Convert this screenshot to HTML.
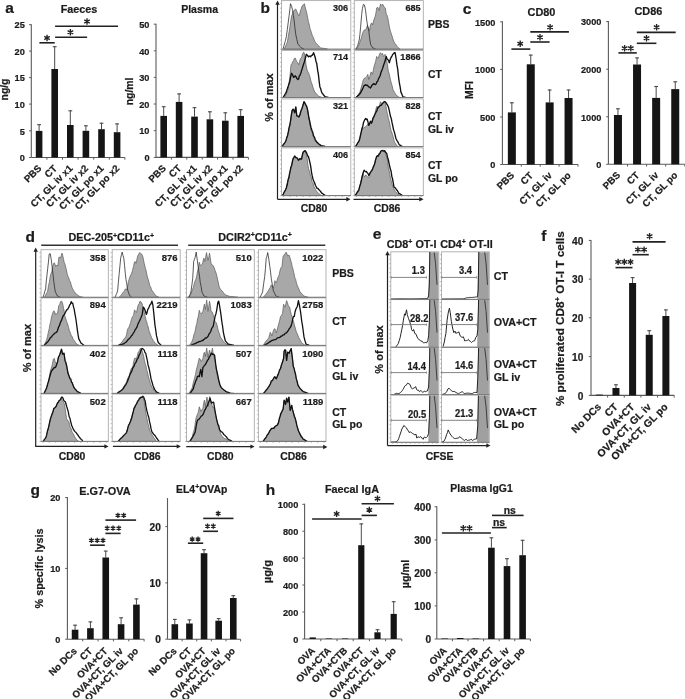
<!DOCTYPE html>
<html><head><meta charset="utf-8"><title>Figure</title>
<style>
html,body{margin:0;padding:0;background:#fff;}
body{width:685px;height:699px;overflow:hidden;}
svg{display:block;font-family:"Liberation Sans",sans-serif;filter:grayscale(1);}
</style></head><body>
<svg width="685" height="699" viewBox="0 0 685 699"><text x="5.2" y="13" font-size="15.5" text-anchor="start" font-weight="bold" fill="#1c1c1c" stroke="#1c1c1c" stroke-width="0.22">a</text>
<text x="79" y="12.9" font-size="10.8" text-anchor="middle" font-weight="bold" fill="#1c1c1c" stroke="#1c1c1c" stroke-width="0.22">Faeces</text>
<text x="199.6" y="13.1" font-size="10.5" text-anchor="middle" font-weight="bold" fill="#1c1c1c" stroke="#1c1c1c" stroke-width="0.22">Plasma</text>
<text x="0" y="0" transform="translate(8.3 89.5) rotate(-90)" font-size="10.4" text-anchor="middle" font-weight="bold" fill="#1c1c1c" stroke="#1c1c1c" stroke-width="0.22">ng/g</text>
<text x="0" y="0" transform="translate(133 91.4) rotate(-90)" font-size="10.4" text-anchor="middle" font-weight="bold" fill="#1c1c1c" stroke="#1c1c1c" stroke-width="0.22">ng/ml</text>
<line x1="31.3" y1="24.2" x2="31.3" y2="157.5" stroke="#5a5a5a" stroke-width="1.1"/>
<line x1="31.3" y1="157.5" x2="124.9" y2="157.5" stroke="#5a5a5a" stroke-width="1.1"/>
<line x1="29.1" y1="24.7" x2="31.3" y2="24.7" stroke="#5a5a5a" stroke-width="1"/>
<text x="0" y="0" transform="translate(24.8 28.48) scale(0.98 1.04)" font-size="9.4" text-anchor="end" font-weight="bold" fill="#1c1c1c" stroke="#1c1c1c" stroke-width="0.22">25</text>
<line x1="29.1" y1="51.1" x2="31.3" y2="51.1" stroke="#5a5a5a" stroke-width="1"/>
<text x="0" y="0" transform="translate(24.8 54.88) scale(0.98 1.04)" font-size="9.4" text-anchor="end" font-weight="bold" fill="#1c1c1c" stroke="#1c1c1c" stroke-width="0.22">20</text>
<line x1="29.1" y1="77.6" x2="31.3" y2="77.6" stroke="#5a5a5a" stroke-width="1"/>
<text x="0" y="0" transform="translate(24.8 81.38) scale(0.98 1.04)" font-size="9.4" text-anchor="end" font-weight="bold" fill="#1c1c1c" stroke="#1c1c1c" stroke-width="0.22">15</text>
<line x1="29.1" y1="104.1" x2="31.3" y2="104.1" stroke="#5a5a5a" stroke-width="1"/>
<text x="0" y="0" transform="translate(24.8 107.88) scale(0.98 1.04)" font-size="9.4" text-anchor="end" font-weight="bold" fill="#1c1c1c" stroke="#1c1c1c" stroke-width="0.22">10</text>
<line x1="29.1" y1="130.8" x2="31.3" y2="130.8" stroke="#5a5a5a" stroke-width="1"/>
<text x="0" y="0" transform="translate(24.8 134.58) scale(0.98 1.04)" font-size="9.4" text-anchor="end" font-weight="bold" fill="#1c1c1c" stroke="#1c1c1c" stroke-width="0.22">5</text>
<line x1="29.1" y1="157.5" x2="31.3" y2="157.5" stroke="#5a5a5a" stroke-width="1"/>
<text x="0" y="0" transform="translate(24.8 161.28) scale(0.98 1.04)" font-size="9.4" text-anchor="end" font-weight="bold" fill="#1c1c1c" stroke="#1c1c1c" stroke-width="0.22">0</text>
<line x1="46.9" y1="157.5" x2="46.9" y2="159.7" stroke="#5a5a5a" stroke-width="1"/>
<line x1="62.5" y1="157.5" x2="62.5" y2="159.7" stroke="#5a5a5a" stroke-width="1"/>
<line x1="78.1" y1="157.5" x2="78.1" y2="159.7" stroke="#5a5a5a" stroke-width="1"/>
<line x1="93.7" y1="157.5" x2="93.7" y2="159.7" stroke="#5a5a5a" stroke-width="1"/>
<line x1="109.3" y1="157.5" x2="109.3" y2="159.7" stroke="#5a5a5a" stroke-width="1"/>
<line x1="124.9" y1="157.5" x2="124.9" y2="159.7" stroke="#5a5a5a" stroke-width="1"/>
<text x="0" y="0" transform="translate(42 169) rotate(-45)" font-size="9.7" text-anchor="end" font-weight="bold" fill="#1c1c1c" stroke="#1c1c1c" stroke-width="0.22">PBS</text>
<text x="0" y="0" transform="translate(57.6 169) rotate(-45)" font-size="9.7" text-anchor="end" font-weight="bold" fill="#1c1c1c" stroke="#1c1c1c" stroke-width="0.22">CT</text>
<text x="0" y="0" transform="translate(73.2 169) rotate(-45)" font-size="9.7" text-anchor="end" font-weight="bold" fill="#1c1c1c" stroke="#1c1c1c" stroke-width="0.22">CT, GL iv x1</text>
<text x="0" y="0" transform="translate(88.8 169) rotate(-45)" font-size="9.7" text-anchor="end" font-weight="bold" fill="#1c1c1c" stroke="#1c1c1c" stroke-width="0.22">CT, GL iv x2</text>
<text x="0" y="0" transform="translate(104.4 169) rotate(-45)" font-size="9.7" text-anchor="end" font-weight="bold" fill="#1c1c1c" stroke="#1c1c1c" stroke-width="0.22">CT, GL po x1</text>
<text x="0" y="0" transform="translate(120 169) rotate(-45)" font-size="9.7" text-anchor="end" font-weight="bold" fill="#1c1c1c" stroke="#1c1c1c" stroke-width="0.22">CT, GL po x2</text>
<line x1="39.1" y1="124.3" x2="39.1" y2="130.9" stroke="#4a4a4a" stroke-width="1"/>
<line x1="37.2" y1="124.7" x2="41" y2="124.7" stroke="#4a4a4a" stroke-width="1.1"/>
<rect x="35.8" y="130.9" width="6.6" height="26.6" fill="#151515"/>
<line x1="54.7" y1="46.3" x2="54.7" y2="69" stroke="#4a4a4a" stroke-width="1"/>
<line x1="52.8" y1="46.7" x2="56.6" y2="46.7" stroke="#4a4a4a" stroke-width="1.1"/>
<rect x="51.4" y="69" width="6.6" height="88.5" fill="#151515"/>
<line x1="70.3" y1="110.4" x2="70.3" y2="125" stroke="#4a4a4a" stroke-width="1"/>
<line x1="68.4" y1="110.8" x2="72.2" y2="110.8" stroke="#4a4a4a" stroke-width="1.1"/>
<rect x="67" y="125" width="6.6" height="32.5" fill="#151515"/>
<line x1="85.9" y1="125.4" x2="85.9" y2="130.8" stroke="#4a4a4a" stroke-width="1"/>
<line x1="84" y1="125.8" x2="87.8" y2="125.8" stroke="#4a4a4a" stroke-width="1.1"/>
<rect x="82.6" y="130.8" width="6.6" height="26.7" fill="#151515"/>
<line x1="101.5" y1="122.8" x2="101.5" y2="129.2" stroke="#4a4a4a" stroke-width="1"/>
<line x1="99.6" y1="123.2" x2="103.4" y2="123.2" stroke="#4a4a4a" stroke-width="1.1"/>
<rect x="98.2" y="129.2" width="6.6" height="28.3" fill="#151515"/>
<line x1="117.1" y1="123.5" x2="117.1" y2="132.2" stroke="#4a4a4a" stroke-width="1"/>
<line x1="115.2" y1="123.9" x2="119" y2="123.9" stroke="#4a4a4a" stroke-width="1.1"/>
<rect x="113.8" y="132.2" width="6.6" height="25.3" fill="#151515"/>
<line x1="39.4" y1="42.8" x2="54.7" y2="42.8" stroke="#222" stroke-width="1.6"/>
<path d="M47.05 34.8L47.05 41.2M44.28 36.4L49.82 39.6M44.28 39.6L49.82 36.4" stroke="#222" stroke-width="1.35" fill="none"/>
<line x1="55.1" y1="37.2" x2="87.1" y2="37.2" stroke="#222" stroke-width="1.6"/>
<path d="M70.4 29.1L70.4 35.5M67.63 30.7L73.17 33.9M67.63 33.9L73.17 30.7" stroke="#222" stroke-width="1.35" fill="none"/>
<line x1="55.1" y1="26.2" x2="118" y2="26.2" stroke="#222" stroke-width="1.6"/>
<path d="M87 18.3L87 24.7M84.23 19.9L89.77 23.1M84.23 23.1L89.77 19.9" stroke="#222" stroke-width="1.35" fill="none"/>
<line x1="156" y1="23.7" x2="156" y2="157.4" stroke="#5a5a5a" stroke-width="1.1"/>
<line x1="156" y1="157.4" x2="248.4" y2="157.4" stroke="#5a5a5a" stroke-width="1.1"/>
<line x1="153.8" y1="24.2" x2="156" y2="24.2" stroke="#5a5a5a" stroke-width="1"/>
<text x="0" y="0" transform="translate(149.5 27.98) scale(0.98 1.04)" font-size="9.4" text-anchor="end" font-weight="bold" fill="#1c1c1c" stroke="#1c1c1c" stroke-width="0.22">50</text>
<line x1="153.8" y1="50.8" x2="156" y2="50.8" stroke="#5a5a5a" stroke-width="1"/>
<text x="0" y="0" transform="translate(149.5 54.58) scale(0.98 1.04)" font-size="9.4" text-anchor="end" font-weight="bold" fill="#1c1c1c" stroke="#1c1c1c" stroke-width="0.22">40</text>
<line x1="153.8" y1="77.4" x2="156" y2="77.4" stroke="#5a5a5a" stroke-width="1"/>
<text x="0" y="0" transform="translate(149.5 81.18) scale(0.98 1.04)" font-size="9.4" text-anchor="end" font-weight="bold" fill="#1c1c1c" stroke="#1c1c1c" stroke-width="0.22">30</text>
<line x1="153.8" y1="104" x2="156" y2="104" stroke="#5a5a5a" stroke-width="1"/>
<text x="0" y="0" transform="translate(149.5 107.78) scale(0.98 1.04)" font-size="9.4" text-anchor="end" font-weight="bold" fill="#1c1c1c" stroke="#1c1c1c" stroke-width="0.22">20</text>
<line x1="153.8" y1="130.7" x2="156" y2="130.7" stroke="#5a5a5a" stroke-width="1"/>
<text x="0" y="0" transform="translate(149.5 134.48) scale(0.98 1.04)" font-size="9.4" text-anchor="end" font-weight="bold" fill="#1c1c1c" stroke="#1c1c1c" stroke-width="0.22">10</text>
<line x1="153.8" y1="157.4" x2="156" y2="157.4" stroke="#5a5a5a" stroke-width="1"/>
<text x="0" y="0" transform="translate(149.5 161.18) scale(0.98 1.04)" font-size="9.4" text-anchor="end" font-weight="bold" fill="#1c1c1c" stroke="#1c1c1c" stroke-width="0.22">0</text>
<line x1="171.4" y1="157.4" x2="171.4" y2="159.6" stroke="#5a5a5a" stroke-width="1"/>
<line x1="186.8" y1="157.4" x2="186.8" y2="159.6" stroke="#5a5a5a" stroke-width="1"/>
<line x1="202.2" y1="157.4" x2="202.2" y2="159.6" stroke="#5a5a5a" stroke-width="1"/>
<line x1="217.6" y1="157.4" x2="217.6" y2="159.6" stroke="#5a5a5a" stroke-width="1"/>
<line x1="233" y1="157.4" x2="233" y2="159.6" stroke="#5a5a5a" stroke-width="1"/>
<line x1="248.4" y1="157.4" x2="248.4" y2="159.6" stroke="#5a5a5a" stroke-width="1"/>
<text x="0" y="0" transform="translate(166.6 168.9) rotate(-45)" font-size="9.7" text-anchor="end" font-weight="bold" fill="#1c1c1c" stroke="#1c1c1c" stroke-width="0.22">PBS</text>
<text x="0" y="0" transform="translate(182 168.9) rotate(-45)" font-size="9.7" text-anchor="end" font-weight="bold" fill="#1c1c1c" stroke="#1c1c1c" stroke-width="0.22">CT</text>
<text x="0" y="0" transform="translate(197.4 168.9) rotate(-45)" font-size="9.7" text-anchor="end" font-weight="bold" fill="#1c1c1c" stroke="#1c1c1c" stroke-width="0.22">CT, GL iv x1</text>
<text x="0" y="0" transform="translate(212.8 168.9) rotate(-45)" font-size="9.7" text-anchor="end" font-weight="bold" fill="#1c1c1c" stroke="#1c1c1c" stroke-width="0.22">CT, GL iv x2</text>
<text x="0" y="0" transform="translate(228.2 168.9) rotate(-45)" font-size="9.7" text-anchor="end" font-weight="bold" fill="#1c1c1c" stroke="#1c1c1c" stroke-width="0.22">CT, GL po x1</text>
<text x="0" y="0" transform="translate(243.6 168.9) rotate(-45)" font-size="9.7" text-anchor="end" font-weight="bold" fill="#1c1c1c" stroke="#1c1c1c" stroke-width="0.22">CT, GL po x2</text>
<line x1="163.7" y1="106.3" x2="163.7" y2="115.9" stroke="#4a4a4a" stroke-width="1"/>
<line x1="161.8" y1="106.7" x2="165.6" y2="106.7" stroke="#4a4a4a" stroke-width="1.1"/>
<rect x="160.4" y="115.9" width="6.6" height="41.5" fill="#151515"/>
<line x1="179.1" y1="93.5" x2="179.1" y2="101.9" stroke="#4a4a4a" stroke-width="1"/>
<line x1="177.2" y1="93.9" x2="181" y2="93.9" stroke="#4a4a4a" stroke-width="1.1"/>
<rect x="175.8" y="101.9" width="6.6" height="55.5" fill="#151515"/>
<line x1="194.5" y1="107.3" x2="194.5" y2="116.6" stroke="#4a4a4a" stroke-width="1"/>
<line x1="192.6" y1="107.7" x2="196.4" y2="107.7" stroke="#4a4a4a" stroke-width="1.1"/>
<rect x="191.2" y="116.6" width="6.6" height="40.8" fill="#151515"/>
<line x1="209.9" y1="111.4" x2="209.9" y2="119.3" stroke="#4a4a4a" stroke-width="1"/>
<line x1="208" y1="111.8" x2="211.8" y2="111.8" stroke="#4a4a4a" stroke-width="1.1"/>
<rect x="206.6" y="119.3" width="6.6" height="38.1" fill="#151515"/>
<line x1="225.3" y1="112.4" x2="225.3" y2="120.7" stroke="#4a4a4a" stroke-width="1"/>
<line x1="223.4" y1="112.8" x2="227.2" y2="112.8" stroke="#4a4a4a" stroke-width="1.1"/>
<rect x="222" y="120.7" width="6.6" height="36.7" fill="#151515"/>
<line x1="240.7" y1="109.3" x2="240.7" y2="115.9" stroke="#4a4a4a" stroke-width="1"/>
<line x1="238.8" y1="109.7" x2="242.6" y2="109.7" stroke="#4a4a4a" stroke-width="1.1"/>
<rect x="237.4" y="115.9" width="6.6" height="41.5" fill="#151515"/>
<text x="260.6" y="12.9" font-size="15.5" text-anchor="start" font-weight="bold" fill="#1c1c1c" stroke="#1c1c1c" stroke-width="0.22">b</text>
<rect x="281.5" y="0.6" width="69.3" height="48.6" fill="#fff" stroke="#ababab" stroke-width="0.9"/>
<rect x="281.5" y="50.4" width="69.3" height="47.1" fill="#fff" stroke="#ababab" stroke-width="0.9"/>
<rect x="281.5" y="98.9" width="69.3" height="47.7" fill="#fff" stroke="#ababab" stroke-width="0.9"/>
<rect x="281.5" y="147.9" width="69.3" height="47.7" fill="#fff" stroke="#ababab" stroke-width="0.9"/>
<rect x="354.3" y="0.6" width="69" height="48.6" fill="#fff" stroke="#ababab" stroke-width="0.9"/>
<rect x="354.3" y="50.4" width="69" height="47.1" fill="#fff" stroke="#ababab" stroke-width="0.9"/>
<rect x="354.3" y="98.9" width="69" height="47.7" fill="#fff" stroke="#ababab" stroke-width="0.9"/>
<rect x="354.3" y="147.9" width="69" height="47.7" fill="#fff" stroke="#ababab" stroke-width="0.9"/>
<path d="M284.2 49.2 L284.2 48.9 L285 47.3 L285.8 45.63 L286.6 43.65 L287.4 42 L288.27 36.24 L289.13 31.56 L290 26.3 L290.8 20.84 L291.6 15.8 L292.35 14.32 L293.1 11.6 L294 10.27 L294.9 9.75 L295.8 8.9 L296.8 11.6 L297.85 13.88 L298.9 15.8 L299.7 14.05 L300.5 10.5 L301.2 8.78 L301.9 6.55 L302.6 5.3 L303.5 5.06 L304.4 3.7 L305.1 6.86 L305.8 9.5 L306.55 12.1 L307.3 15.8 L308.35 21.4 L309.4 25.2 L310.1 28.73 L310.8 30.82 L311.5 32.6 L312.4 35.95 L313.3 37.13 L314.2 40 L314.92 41.38 L315.64 42.6 L316.36 43.33 L317.08 44.13 L317.8 45.2 L318.7 45.84 L319.6 46.91 L320.5 47.8 L321.26 47.95 L322.01 48.13 L322.77 48.26 L323.52 48.29 L324.28 48.46 L325.03 48.5 L325.79 48.69 L326.54 48.78 L327.3 48.9 L327.3 49.2Z" fill="#a8a8a8" stroke="#5a5a5a" stroke-width="0.7" stroke-linejoin="round"/>
<path d="M283.2 48.9 L283.98 45.68 L284.75 42.8 L285.52 40.25 L286.3 36.8 L287.35 29.31 L288.4 21 L289.2 15.16 L290 8.4 L290.5 3.7 L291.6 6.3 L292.6 10.5 L293.4 15.62 L294.2 21 L295 28.45 L295.8 34.7 L296.85 39.45 L297.9 44.1 L298.67 44.73 L299.45 45.93 L300.23 46.7 L301 47.8 L301.8 48.16 L302.6 48.41 L303.4 48.61 L304.2 48.9" fill="none" stroke="#222" stroke-width="0.75" stroke-linejoin="round"/>
<line x1="281.5" y1="49.2" x2="350.8" y2="49.2" stroke="#7a7a7a" stroke-width="1"/>
<path d="M279.9 3.6L281.5 3.6M279.9 8.16L281.5 8.16M279.9 12.72L281.5 12.72M279.9 17.28L281.5 17.28M279.9 21.84L281.5 21.84M279.9 26.4L281.5 26.4M279.9 30.96L281.5 30.96M279.9 35.52L281.5 35.52M279.9 40.08L281.5 40.08M279.9 44.64L281.5 44.64M279.9 49.2L281.5 49.2" stroke="#9a9a9a" stroke-width="0.6"/>
<path d="M284.7 97.5 L284.7 97.4 L285.5 95.58 L286.3 93.65 L287.1 91.93 L287.9 90 L288.6 84.45 L289.3 80.89 L290 75.3 L291 64.8 L291.8 63.96 L292.6 61.7 L293.47 60.8 L294.33 58.49 L295.2 58 L296 59.9 L296.8 61.7 L297.85 62.87 L298.9 64.8 L299.7 61.1 L300.5 58.5 L301.2 57.93 L301.9 56.46 L302.6 53.8 L303.4 52.25 L304.2 52.7 L305.2 58.5 L306 64.54 L306.8 69 L307.67 71.33 L308.53 72.94 L309.4 75.3 L310.1 77.29 L310.8 80.62 L311.5 82.7 L312.3 84.96 L313.1 87.74 L313.9 89.98 L314.7 92.1 L315.54 92.63 L316.38 93.96 L317.22 94.87 L318.06 95.64 L318.9 96.3 L319.67 96.59 L320.45 96.8 L321.23 97.09 L322 97.4 L322 97.5Z" fill="#a8a8a8" stroke="#5a5a5a" stroke-width="0.7" stroke-linejoin="round"/>
<path d="M283.2 97.4 L283.98 96.18 L284.75 94.7 L285.52 93.64 L286.3 92.1 L287.1 89.42 L287.9 87.37 L288.7 84.6 L289.5 82.7 L290.2 79.62 L290.9 75.52 L291.6 73.2 L292.65 75.13 L293.7 77.4 L294.4 76.7 L295.1 75.81 L295.8 76.4 L296.85 78.58 L297.9 79.5 L298.6 78.92 L299.3 76 L300 75.3 L300.7 73.46 L301.4 71.16 L302.1 69 L302.97 66.05 L303.83 63.58 L304.7 60.6 L305.5 57.77 L306.3 54.3 L307.35 55.16 L308.4 56.9 L309.17 56.25 L309.95 56.16 L310.73 56.76 L311.5 55.4 L312.2 55.36 L312.9 54.15 L313.6 52.7 L314.4 55.02 L315.2 57.5 L316 61.47 L316.8 63.8 L317.6 70.01 L318.4 74.3 L319.15 81.37 L319.9 86.9 L320.6 88.53 L321.3 90.94 L322 93.1 L322.8 93.89 L323.6 94.98 L324.4 96.04 L325.2 96.9 L326 97.02 L326.8 97.14 L327.6 97.26 L328.4 97.4" fill="none" stroke="#111" stroke-width="1.35" stroke-linejoin="round"/>
<line x1="281.5" y1="97.5" x2="350.8" y2="97.5" stroke="#7a7a7a" stroke-width="1"/>
<path d="M279.9 53.4L281.5 53.4M279.9 57.81L281.5 57.81M279.9 62.22L281.5 62.22M279.9 66.63L281.5 66.63M279.9 71.04L281.5 71.04M279.9 75.45L281.5 75.45M279.9 79.86L281.5 79.86M279.9 84.27L281.5 84.27M279.9 88.68L281.5 88.68M279.9 93.09L281.5 93.09M279.9 97.5L281.5 97.5" stroke="#9a9a9a" stroke-width="0.6"/>
<path d="M282.1 146.6 L282.1 146.4 L282.84 145.43 L283.58 144.36 L284.32 143.39 L285.06 142.49 L285.8 141.1 L286.67 137.59 L287.53 135.13 L288.4 131.7 L289.1 129.09 L289.8 125.52 L290.5 121.2 L291.3 116.11 L292.1 110.7 L293.1 109.1 L293.9 110.22 L294.7 112.8 L295.8 107 L296.8 115.9 L297.85 116.26 L298.9 117 L299.6 115.99 L300.3 111.93 L301 110.7 L301.8 108.2 L302.6 106.5 L304 101.7 L304.9 104.29 L305.8 104.9 L306.55 106.64 L307.3 108.6 L308.1 112.66 L308.9 118 L309.7 122.35 L310.5 127.5 L311.33 131.2 L312.17 132.74 L313 135.9 L313.75 137.35 L314.5 139.23 L315.25 140.96 L316 142.2 L316.8 142.87 L317.6 143.33 L318.4 144.27 L319.2 144.78 L320 145.6 L320.8 145.7 L321.6 145.88 L322.4 146.1 L323.2 146.23 L324 146.4 L324 146.6Z" fill="#a8a8a8" stroke="#5a5a5a" stroke-width="0.7" stroke-linejoin="round"/>
<path d="M282.1 146.4 L282.84 145.34 L283.58 144.16 L284.32 143.48 L285.06 142.26 L285.8 141.1 L286.67 138.1 L287.53 135.7 L288.4 131.7 L289.1 127.38 L289.8 125.29 L290.5 121.2 L291.3 115.4 L292.1 110.7 L293.1 109.1 L293.9 110.45 L294.7 112.8 L295.8 107 L296.8 115.9 L297.85 116.09 L298.9 117 L299.6 115.38 L300.3 113.68 L301 110.7 L301.8 109.01 L302.6 106.5 L304 101.7 L304.9 102.93 L305.8 104.9 L306.55 106.01 L307.3 108.6 L308.1 112.87 L308.9 118 L309.6 120.6 L310.3 124.34 L311 127.5 L311.87 130.32 L312.73 132.33 L313.6 135.9 L314.4 137.03 L315.2 139.53 L316 140.83 L316.8 142.2 L317.64 142.63 L318.48 143.75 L319.32 144.22 L320.16 144.89 L321 145.6 L321.84 145.8 L322.68 145.94 L323.52 146.07 L324.36 146.23 L325.2 146.4" fill="none" stroke="#111" stroke-width="1.35" stroke-linejoin="round"/>
<line x1="281.5" y1="146.6" x2="350.8" y2="146.6" stroke="#7a7a7a" stroke-width="1"/>
<path d="M279.9 101.9L281.5 101.9M279.9 106.37L281.5 106.37M279.9 110.84L281.5 110.84M279.9 115.31L281.5 115.31M279.9 119.78L281.5 119.78M279.9 124.25L281.5 124.25M279.9 128.72L281.5 128.72M279.9 133.19L281.5 133.19M279.9 137.66L281.5 137.66M279.9 142.13L281.5 142.13M279.9 146.6L281.5 146.6" stroke="#9a9a9a" stroke-width="0.6"/>
<path d="M282.6 195.6 L282.6 195.4 L283.34 193.93 L284.08 192.32 L284.82 190.56 L285.56 189.65 L286.3 188 L287.17 183.91 L288.03 180.47 L288.9 177.5 L289.6 173.77 L290.3 170.81 L291 167 L291.7 165.28 L292.4 161.32 L293.1 158.6 L293.9 158.39 L294.7 156 L295.5 157.88 L296.3 157.6 L297.35 158.33 L298.4 160.2 L299.2 158.46 L300 158.6 L300.75 158.1 L301.5 159.1 L302.3 156.45 L303.1 152.3 L304.15 151.72 L305.2 150.7 L306 154.02 L306.8 155.5 L307.9 164.9 L308.6 168.74 L309.3 170.84 L310 173.3 L310.7 176.18 L311.4 177.95 L312.1 181.7 L312.97 182.77 L313.83 186.44 L314.7 188 L315.48 189.4 L316.25 190.65 L317.02 191.65 L317.8 192.8 L318.6 193.47 L319.4 194.04 L320.2 194.67 L321 195.2 L321 195.6Z" fill="#a8a8a8" stroke="#5a5a5a" stroke-width="0.7" stroke-linejoin="round"/>
<path d="M282.6 195.4 L283.34 193.93 L284.08 192.32 L284.82 191.15 L285.56 189.78 L286.3 188 L287.17 184.77 L288.03 180.04 L288.9 177.5 L289.6 173.48 L290.3 170.18 L291 167 L291.7 165.15 L292.4 161.72 L293.1 158.6 L293.9 157.36 L294.7 156 L295.5 157.14 L296.3 157.6 L297.35 158.11 L298.4 160.2 L299.2 159.77 L300 158.6 L300.75 159.16 L301.5 159.1 L302.3 155.12 L303.1 152.3 L304.15 151.22 L305.2 150.7 L306 151.88 L306.8 153.4 L307.6 155.86 L308.4 156.5 L309.2 159.39 L310 162.8 L310.75 166.61 L311.5 172.3 L312.2 175.73 L312.9 178.63 L313.6 180.7 L314.5 182.48 L315.4 185.3 L316.3 187 L317.07 188.4 L317.85 188.42 L318.62 189.5 L319.4 190.1 L320.27 191.2 L321.13 192.26 L322 193.3 L322.8 193.79 L323.6 194.33 L324.4 194.79 L325.2 195.2" fill="none" stroke="#111" stroke-width="1.35" stroke-linejoin="round"/>
<line x1="281.5" y1="195.6" x2="350.8" y2="195.6" stroke="#7a7a7a" stroke-width="1"/>
<path d="M283.5 195.6L283.5 197M290.03 195.6L290.03 197M296.56 195.6L296.56 197M303.09 195.6L303.09 197M309.62 195.6L309.62 197M316.15 195.6L316.15 197M322.68 195.6L322.68 197M329.21 195.6L329.21 197M335.74 195.6L335.74 197M342.27 195.6L342.27 197M348.8 195.6L348.8 197" stroke="#8a8a8a" stroke-width="0.7"/>
<path d="M279.9 150.9L281.5 150.9M279.9 155.37L281.5 155.37M279.9 159.84L281.5 159.84M279.9 164.31L281.5 164.31M279.9 168.78L281.5 168.78M279.9 173.25L281.5 173.25M279.9 177.72L281.5 177.72M279.9 182.19L281.5 182.19M279.9 186.66L281.5 186.66M279.9 191.13L281.5 191.13M279.9 195.6L281.5 195.6" stroke="#9a9a9a" stroke-width="0.6"/>
<path d="M356.3 49.2 L356.3 49 L357.02 47.73 L357.75 46.81 L358.48 45.66 L359.2 44.3 L359.9 41.85 L360.6 40.03 L361.3 37.9 L362.7 32.9 L363.45 31.34 L364.2 30 L365.1 29.98 L366 29.3 L367.4 25.4 L368.5 27.9 L369.5 30.8 L370.6 24.3 L371.7 22.9 L372.7 25 L373.8 20 L375.2 16.5 L375.95 12.84 L376.7 7.9 L377.8 7.2 L379.2 10.7 L379.9 6.41 L380.6 3.9 L381.7 5.4 L382.8 4.3 L384.2 7.2 L385.3 7.9 L386.3 14.3 L387.05 15.06 L387.8 17.9 L389.2 25.8 L390.1 30.09 L391 32.9 L391.9 35.6 L392.8 38.6 L393.85 41.49 L394.9 43.6 L395.62 44.07 L396.35 45.36 L397.07 46.42 L397.8 47.2 L398.53 47.73 L399.27 48.47 L400 49 L400 49.2Z" fill="#a8a8a8" stroke="#5a5a5a" stroke-width="0.7" stroke-linejoin="round"/>
<path d="M355.9 49 L356.8 47.42 L357.7 45.8 L358.45 42.63 L359.2 40.1 L359.9 34.58 L360.6 27.2 L361.7 14.3 L362.4 8.6 L363.4 4.3 L364.5 5 L365.6 10.7 L366.7 20 L367.7 26.5 L368.8 30.8 L369.5 37.2 L370.6 44.3 L371.65 46.32 L372.7 47.9 L373.43 48.17 L374.15 48.47 L374.88 48.7 L375.6 49" fill="none" stroke="#222" stroke-width="0.75" stroke-linejoin="round"/>
<line x1="354.3" y1="49.2" x2="423.3" y2="49.2" stroke="#7a7a7a" stroke-width="1"/>
<path d="M352.7 3.6L354.3 3.6M352.7 8.16L354.3 8.16M352.7 12.72L354.3 12.72M352.7 17.28L354.3 17.28M352.7 21.84L354.3 21.84M352.7 26.4L354.3 26.4M352.7 30.96L354.3 30.96M352.7 35.52L354.3 35.52M352.7 40.08L354.3 40.08M352.7 44.64L354.3 44.64M352.7 49.2L354.3 49.2" stroke="#9a9a9a" stroke-width="0.6"/>
<path d="M356.2 97.5 L356.2 97.4 L356.94 96.33 L357.68 95.3 L358.42 94.48 L359.16 93.13 L359.9 92.1 L360.77 88.98 L361.63 86.02 L362.5 82.7 L363.3 79.91 L364.1 78.5 L365.15 77.98 L366.2 77.4 L367 76.14 L367.8 74.3 L368.8 79.5 L369.85 76.49 L370.9 72.2 L371.7 72.36 L372.5 74.3 L373.2 70.7 L373.9 67.07 L374.6 64.8 L375.65 61.28 L376.7 56.4 L377.5 57.88 L378.3 58.5 L379.35 54.59 L380.4 52.7 L381.1 53.96 L381.8 54.12 L382.5 53.3 L383.5 56.4 L384.3 55.69 L385.1 54.3 L385.9 57.7 L386.7 60.6 L387.5 65.1 L388.3 71.1 L389.35 74.23 L390.4 79.5 L391.27 83.06 L392.13 85.61 L393 90 L393.77 90.97 L394.55 92.42 L395.33 93.67 L396.1 95.3 L396.9 95.76 L397.7 96.24 L398.5 96.77 L399.3 97.2 L399.3 97.5Z" fill="#a8a8a8" stroke="#5a5a5a" stroke-width="0.7" stroke-linejoin="round"/>
<path d="M356.2 97.4 L357.04 96.61 L357.88 95.63 L358.72 95.07 L359.56 94.04 L360.4 93.2 L361.27 91.36 L362.13 89.88 L363 88 L363.8 86.05 L364.6 85.3 L365.4 84.81 L366.2 85.39 L367 85.14 L367.8 85.8 L368.67 86.84 L369.53 87.12 L370.4 88 L371.27 86.56 L372.13 85.09 L373 84.3 L373.8 83.59 L374.6 84.43 L375.4 84.66 L376.2 83.7 L376.98 81.83 L377.75 81.16 L378.52 78.6 L379.3 77.4 L380.2 75.49 L381.1 72.01 L382 70.1 L382.7 68.14 L383.4 65.71 L384.1 63.8 L385.15 60.84 L386.2 56.4 L386.95 58.52 L387.7 59.6 L388.5 60.37 L389.3 62.7 L390.35 59 L391.4 56.9 L392.1 55.79 L392.8 54.26 L393.5 53.8 L394.3 52.73 L395.1 52.7 L396.1 58.5 L396.9 64.65 L397.7 69 L398.5 76.73 L399.3 82.7 L400.1 86.59 L400.9 92.1 L401.6 93.4 L402.3 95.35 L403 96.9 L403.87 97.1 L404.73 97.25 L405.6 97.4" fill="none" stroke="#111" stroke-width="1.35" stroke-linejoin="round"/>
<line x1="354.3" y1="97.5" x2="423.3" y2="97.5" stroke="#7a7a7a" stroke-width="1"/>
<path d="M352.7 53.4L354.3 53.4M352.7 57.81L354.3 57.81M352.7 62.22L354.3 62.22M352.7 66.63L354.3 66.63M352.7 71.04L354.3 71.04M352.7 75.45L354.3 75.45M352.7 79.86L354.3 79.86M352.7 84.27L354.3 84.27M352.7 88.68L354.3 88.68M352.7 93.09L354.3 93.09M352.7 97.5L354.3 97.5" stroke="#9a9a9a" stroke-width="0.6"/>
<path d="M355.7 146.6 L355.7 146.4 L356.44 145.05 L357.18 143.97 L357.92 142.72 L358.66 141.34 L359.4 140.1 L360.27 135.69 L361.13 133.01 L362 128.5 L362.7 128.84 L363.4 127.86 L364.1 127.5 L365.15 126.96 L366.2 126.4 L367.07 125.12 L367.93 123.91 L368.8 124.3 L369.6 123.24 L370.4 122.94 L371.2 121.03 L372 121.2 L372.87 119.75 L373.73 116.41 L374.6 114.9 L375.65 110.11 L376.7 106.5 L377.5 106.54 L378.3 108.6 L379.35 106.24 L380.4 101.7 L381.1 102.76 L381.8 103.59 L382.5 103.3 L383.37 103.02 L384.23 101.21 L385.1 101.7 L385.9 105.82 L386.7 110.7 L387.5 114.34 L388.3 118 L389.35 121.9 L390.4 127.5 L391.1 130.93 L391.8 132.08 L392.5 134.8 L393.2 136.68 L393.9 140.13 L394.6 142.2 L395.47 143.22 L396.33 144.82 L397.2 145.9 L397.2 146.6Z" fill="#a8a8a8" stroke="#5a5a5a" stroke-width="0.7" stroke-linejoin="round"/>
<path d="M355.7 146.4 L356.44 145.04 L357.18 143.92 L357.92 142.55 L358.66 141.72 L359.4 140.1 L360.27 136.43 L361.13 132.41 L362 128.5 L362.8 126.23 L363.6 122.2 L364.65 119.92 L365.7 118.5 L366.45 119.5 L367.2 119.1 L368 122.09 L368.8 125.4 L369.6 123.65 L370.4 121.2 L371.4 123.3 L372.2 121.59 L373 118 L373.8 117.06 L374.6 114.9 L375.4 113.51 L376.2 111.7 L376.9 110.91 L377.6 107.95 L378.3 107.5 L379.35 106.31 L380.4 105.4 L381.1 105.42 L381.8 104.51 L382.5 103.3 L383.37 102.67 L384.23 101.69 L385.1 101.7 L385.97 102.63 L386.83 104.03 L387.7 105.4 L388.5 107.28 L389.3 110.7 L390.35 115.77 L391.4 119.1 L392.1 122.9 L392.8 126.16 L393.5 129.6 L394.37 132.1 L395.23 135.55 L396.1 139 L396.9 140.36 L397.7 141.62 L398.5 143.26 L399.3 144.8 L400.1 145.17 L400.9 145.64 L401.7 146.04 L402.5 146.4" fill="none" stroke="#111" stroke-width="1.35" stroke-linejoin="round"/>
<line x1="354.3" y1="146.6" x2="423.3" y2="146.6" stroke="#7a7a7a" stroke-width="1"/>
<path d="M352.7 101.9L354.3 101.9M352.7 106.37L354.3 106.37M352.7 110.84L354.3 110.84M352.7 115.31L354.3 115.31M352.7 119.78L354.3 119.78M352.7 124.25L354.3 124.25M352.7 128.72L354.3 128.72M352.7 133.19L354.3 133.19M352.7 137.66L354.3 137.66M352.7 142.13L354.3 142.13M352.7 146.6L354.3 146.6" stroke="#9a9a9a" stroke-width="0.6"/>
<path d="M355.2 195.6 L355.2 195.4 L355.92 194.23 L356.64 193.12 L357.36 192.15 L358.08 191.31 L358.8 190.1 L359.7 186 L360.6 182.25 L361.5 179.6 L362.25 175.86 L363 173.3 L364.1 176.5 L364.9 176.7 L365.7 174.99 L366.5 175.4 L367.27 176.63 L368.03 177.16 L368.8 177.5 L369.6 174.1 L370.4 172.3 L371.1 171.31 L371.8 170.05 L372.5 169.1 L373.2 167.17 L373.9 166.73 L374.6 163.9 L375.65 159.3 L376.7 156.5 L377.5 155.19 L378.3 156 L379.1 155.67 L379.9 153.4 L380.65 151.84 L381.4 150.7 L382.2 150.04 L383 150.33 L383.8 150.4 L384.6 150.7 L385.65 154.6 L386.7 156.5 L387.5 161.11 L388.3 167 L389.05 170.08 L389.8 174.4 L390.85 179.29 L391.9 183.8 L392.8 185.98 L393.7 188.63 L394.6 190.1 L395.47 191.6 L396.33 192.49 L397.2 193.8 L397.98 194.12 L398.75 194.66 L399.52 195.05 L400.3 195.4 L400.3 195.6Z" fill="#a8a8a8" stroke="#5a5a5a" stroke-width="0.7" stroke-linejoin="round"/>
<path d="M355.2 195.4 L355.92 194.3 L356.64 193.38 L357.36 191.99 L358.08 191 L358.8 190.1 L359.7 186.44 L360.6 183.89 L361.5 179.6 L362.25 176.15 L363 173.3 L364.1 170.2 L364.9 171.19 L365.7 171.8 L366.45 171.5 L367.2 172.8 L368 173.44 L368.8 175.4 L369.6 174.25 L370.4 172.3 L371.1 171.34 L371.8 170.61 L372.5 169.1 L373.2 167.25 L373.9 165.61 L374.6 163.9 L375.65 159.6 L376.7 156.5 L377.5 155.7 L378.3 156 L379.1 153.8 L379.9 153.4 L380.65 151.39 L381.4 150.7 L382.2 150.6 L383 150.88 L383.8 151.18 L384.6 150.7 L385.65 152.34 L386.7 153.4 L387.5 157.18 L388.3 159.7 L389.35 164.87 L390.4 169.1 L391.1 171.28 L391.8 176.21 L392.5 178.6 L393.25 182.79 L394 187 L394.7 187.62 L395.4 187.91 L396.1 189.1 L397 190.21 L397.9 191.63 L398.8 193.3 L399.54 193.59 L400.28 194.21 L401.02 194.54 L401.76 195.01 L402.5 195.4" fill="none" stroke="#111" stroke-width="1.35" stroke-linejoin="round"/>
<line x1="354.3" y1="195.6" x2="423.3" y2="195.6" stroke="#7a7a7a" stroke-width="1"/>
<path d="M356.3 195.6L356.3 197M362.8 195.6L362.8 197M369.3 195.6L369.3 197M375.8 195.6L375.8 197M382.3 195.6L382.3 197M388.8 195.6L388.8 197M395.3 195.6L395.3 197M401.8 195.6L401.8 197M408.3 195.6L408.3 197M414.8 195.6L414.8 197M421.3 195.6L421.3 197" stroke="#8a8a8a" stroke-width="0.7"/>
<path d="M352.7 150.9L354.3 150.9M352.7 155.37L354.3 155.37M352.7 159.84L354.3 159.84M352.7 164.31L354.3 164.31M352.7 168.78L354.3 168.78M352.7 173.25L354.3 173.25M352.7 177.72L354.3 177.72M352.7 182.19L354.3 182.19M352.7 186.66L354.3 186.66M352.7 191.13L354.3 191.13M352.7 195.6L354.3 195.6" stroke="#9a9a9a" stroke-width="0.6"/>
<text x="0" y="0" transform="translate(348.1 11.3) scale(0.98 1.07)" font-size="9.3" text-anchor="end" font-weight="bold" fill="#1c1c1c" stroke="#1c1c1c" stroke-width="0.22">306</text>
<text x="0" y="0" transform="translate(420.6 11.3) scale(0.98 1.07)" font-size="9.3" text-anchor="end" font-weight="bold" fill="#1c1c1c" stroke="#1c1c1c" stroke-width="0.22">685</text>
<text x="0" y="0" transform="translate(348.1 59.8) scale(0.98 1.07)" font-size="9.3" text-anchor="end" font-weight="bold" fill="#1c1c1c" stroke="#1c1c1c" stroke-width="0.22">714</text>
<text x="0" y="0" transform="translate(420.6 59.8) scale(0.98 1.07)" font-size="9.3" text-anchor="end" font-weight="bold" fill="#1c1c1c" stroke="#1c1c1c" stroke-width="0.22">1866</text>
<text x="0" y="0" transform="translate(348.1 108.5) scale(0.98 1.07)" font-size="9.3" text-anchor="end" font-weight="bold" fill="#1c1c1c" stroke="#1c1c1c" stroke-width="0.22">321</text>
<text x="0" y="0" transform="translate(420.6 108.5) scale(0.98 1.07)" font-size="9.3" text-anchor="end" font-weight="bold" fill="#1c1c1c" stroke="#1c1c1c" stroke-width="0.22">828</text>
<text x="0" y="0" transform="translate(348.1 157.7) scale(0.98 1.07)" font-size="9.3" text-anchor="end" font-weight="bold" fill="#1c1c1c" stroke="#1c1c1c" stroke-width="0.22">406</text>
<text x="0" y="0" transform="translate(420.6 157.7) scale(0.98 1.07)" font-size="9.3" text-anchor="end" font-weight="bold" fill="#1c1c1c" stroke="#1c1c1c" stroke-width="0.22">854</text>
<text x="428" y="27.9" font-size="10.4" text-anchor="start" font-weight="bold" fill="#1c1c1c" stroke="#1c1c1c" stroke-width="0.22">PBS</text>
<text x="428" y="77.8" font-size="10.4" text-anchor="start" font-weight="bold" fill="#1c1c1c" stroke="#1c1c1c" stroke-width="0.22">CT</text>
<text x="428" y="119.8" font-size="10.4" text-anchor="start" font-weight="bold" fill="#1c1c1c" stroke="#1c1c1c" stroke-width="0.22">CT</text>
<text x="428" y="132.9" font-size="10.4" text-anchor="start" font-weight="bold" fill="#1c1c1c" stroke="#1c1c1c" stroke-width="0.22">GL iv</text>
<text x="428" y="169" font-size="10.4" text-anchor="start" font-weight="bold" fill="#1c1c1c" stroke="#1c1c1c" stroke-width="0.22">CT</text>
<text x="428" y="182.2" font-size="10.4" text-anchor="start" font-weight="bold" fill="#1c1c1c" stroke="#1c1c1c" stroke-width="0.22">GL po</text>
<line x1="277.5" y1="199.3" x2="277.5" y2="3.5" stroke="#222" stroke-width="1.2"/>
<path d="M275.3 4.7 L277.5 0.5 L279.7 4.7 Z" fill="#222"/>
<line x1="277.5" y1="199.3" x2="347.5" y2="199.3" stroke="#222" stroke-width="1.2"/>
<path d="M346.3 197.1 L350.5 199.3 L346.3 201.5 Z" fill="#222"/>
<line x1="353.5" y1="199.3" x2="420.5" y2="199.3" stroke="#222" stroke-width="1.2"/>
<path d="M419.3 197.1 L423.5 199.3 L419.3 201.5 Z" fill="#222"/>
<text x="314" y="211.6" font-size="10.4" text-anchor="middle" font-weight="bold" fill="#1c1c1c" stroke="#1c1c1c" stroke-width="0.22">CD80</text>
<text x="387" y="211.6" font-size="10.4" text-anchor="middle" font-weight="bold" fill="#1c1c1c" stroke="#1c1c1c" stroke-width="0.22">CD86</text>
<text x="0" y="0" transform="translate(273.4 97.5) rotate(-90)" font-size="11" text-anchor="middle" font-weight="bold" fill="#1c1c1c" stroke="#1c1c1c" stroke-width="0.22">% of max</text>
<text x="462.8" y="14.3" font-size="15.5" text-anchor="start" font-weight="bold" fill="#1c1c1c" stroke="#1c1c1c" stroke-width="0.22">c</text>
<text x="541.5" y="15.5" font-size="10.9" text-anchor="middle" font-weight="bold" fill="#1c1c1c" stroke="#1c1c1c" stroke-width="0.22">CD80</text>
<text x="648.4" y="15.4" font-size="10.9" text-anchor="middle" font-weight="bold" fill="#1c1c1c" stroke="#1c1c1c" stroke-width="0.22">CD86</text>
<text x="0" y="0" transform="translate(472.6 90) rotate(-90)" font-size="10.4" text-anchor="middle" font-weight="bold" fill="#1c1c1c" stroke="#1c1c1c" stroke-width="0.22">MFI</text>
<line x1="502.4" y1="21.3" x2="502.4" y2="164.5" stroke="#5a5a5a" stroke-width="1.1"/>
<line x1="502.4" y1="164.5" x2="578" y2="164.5" stroke="#5a5a5a" stroke-width="1.1"/>
<line x1="500.2" y1="21.8" x2="502.4" y2="21.8" stroke="#5a5a5a" stroke-width="1"/>
<text x="0" y="0" transform="translate(495.4 25.58) scale(0.98 1.04)" font-size="9.4" text-anchor="end" font-weight="bold" fill="#1c1c1c" stroke="#1c1c1c" stroke-width="0.22">1500</text>
<line x1="500.2" y1="69.4" x2="502.4" y2="69.4" stroke="#5a5a5a" stroke-width="1"/>
<text x="0" y="0" transform="translate(495.4 73.18) scale(0.98 1.04)" font-size="9.4" text-anchor="end" font-weight="bold" fill="#1c1c1c" stroke="#1c1c1c" stroke-width="0.22">1000</text>
<line x1="500.2" y1="117" x2="502.4" y2="117" stroke="#5a5a5a" stroke-width="1"/>
<text x="0" y="0" transform="translate(495.4 120.78) scale(0.98 1.04)" font-size="9.4" text-anchor="end" font-weight="bold" fill="#1c1c1c" stroke="#1c1c1c" stroke-width="0.22">500</text>
<line x1="500.2" y1="164.5" x2="502.4" y2="164.5" stroke="#5a5a5a" stroke-width="1"/>
<text x="0" y="0" transform="translate(495.4 168.28) scale(0.98 1.04)" font-size="9.4" text-anchor="end" font-weight="bold" fill="#1c1c1c" stroke="#1c1c1c" stroke-width="0.22">0</text>
<line x1="521.3" y1="164.5" x2="521.3" y2="166.7" stroke="#5a5a5a" stroke-width="1"/>
<line x1="540.2" y1="164.5" x2="540.2" y2="166.7" stroke="#5a5a5a" stroke-width="1"/>
<line x1="559.1" y1="164.5" x2="559.1" y2="166.7" stroke="#5a5a5a" stroke-width="1"/>
<line x1="578" y1="164.5" x2="578" y2="166.7" stroke="#5a5a5a" stroke-width="1"/>
<text x="0" y="0" transform="translate(514.75 176) rotate(-45)" font-size="9.7" text-anchor="end" font-weight="bold" fill="#1c1c1c" stroke="#1c1c1c" stroke-width="0.22">PBS</text>
<text x="0" y="0" transform="translate(533.65 176) rotate(-45)" font-size="9.7" text-anchor="end" font-weight="bold" fill="#1c1c1c" stroke="#1c1c1c" stroke-width="0.22">CT</text>
<text x="0" y="0" transform="translate(552.55 176) rotate(-45)" font-size="9.7" text-anchor="end" font-weight="bold" fill="#1c1c1c" stroke="#1c1c1c" stroke-width="0.22">CT, GL iv</text>
<text x="0" y="0" transform="translate(571.45 176) rotate(-45)" font-size="9.7" text-anchor="end" font-weight="bold" fill="#1c1c1c" stroke="#1c1c1c" stroke-width="0.22">CT, GL po</text>
<line x1="511.85" y1="102.4" x2="511.85" y2="112.4" stroke="#4a4a4a" stroke-width="1"/>
<line x1="509.95" y1="102.8" x2="513.75" y2="102.8" stroke="#4a4a4a" stroke-width="1.1"/>
<rect x="507.85" y="112.4" width="8" height="52.1" fill="#151515"/>
<line x1="530.75" y1="54.7" x2="530.75" y2="64.3" stroke="#4a4a4a" stroke-width="1"/>
<line x1="528.85" y1="55.1" x2="532.65" y2="55.1" stroke="#4a4a4a" stroke-width="1.1"/>
<rect x="526.75" y="64.3" width="8" height="100.2" fill="#151515"/>
<line x1="549.65" y1="89.6" x2="549.65" y2="102.4" stroke="#4a4a4a" stroke-width="1"/>
<line x1="547.75" y1="90" x2="551.55" y2="90" stroke="#4a4a4a" stroke-width="1.1"/>
<rect x="545.65" y="102.4" width="8" height="62.1" fill="#151515"/>
<line x1="568.55" y1="89.6" x2="568.55" y2="98" stroke="#4a4a4a" stroke-width="1"/>
<line x1="566.65" y1="90" x2="570.45" y2="90" stroke="#4a4a4a" stroke-width="1.1"/>
<rect x="564.55" y="98" width="8" height="66.5" fill="#151515"/>
<line x1="511.4" y1="49.1" x2="530.3" y2="49.1" stroke="#222" stroke-width="1.6"/>
<path d="M520.2 40.6L520.2 47M517.43 42.2L522.97 45.4M517.43 45.4L522.97 42.2" stroke="#222" stroke-width="1.35" fill="none"/>
<line x1="530.3" y1="42" x2="549.6" y2="42" stroke="#222" stroke-width="1.6"/>
<path d="M540 34.1L540 40.5M537.23 35.7L542.77 38.9M537.23 38.9L542.77 35.7" stroke="#222" stroke-width="1.35" fill="none"/>
<line x1="530.3" y1="31.9" x2="568.9" y2="31.9" stroke="#222" stroke-width="1.6"/>
<path d="M550.1 24L550.1 30.4M547.33 25.6L552.87 28.8M547.33 28.8L552.87 25.6" stroke="#222" stroke-width="1.35" fill="none"/>
<line x1="608.4" y1="21.1" x2="608.4" y2="164.3" stroke="#5a5a5a" stroke-width="1.1"/>
<line x1="608.4" y1="164.3" x2="684.8" y2="164.3" stroke="#5a5a5a" stroke-width="1.1"/>
<line x1="606.2" y1="21.6" x2="608.4" y2="21.6" stroke="#5a5a5a" stroke-width="1"/>
<text x="0" y="0" transform="translate(601.4 25.38) scale(0.98 1.04)" font-size="9.4" text-anchor="end" font-weight="bold" fill="#1c1c1c" stroke="#1c1c1c" stroke-width="0.22">3000</text>
<line x1="606.2" y1="69.2" x2="608.4" y2="69.2" stroke="#5a5a5a" stroke-width="1"/>
<text x="0" y="0" transform="translate(601.4 72.98) scale(0.98 1.04)" font-size="9.4" text-anchor="end" font-weight="bold" fill="#1c1c1c" stroke="#1c1c1c" stroke-width="0.22">2000</text>
<line x1="606.2" y1="116.8" x2="608.4" y2="116.8" stroke="#5a5a5a" stroke-width="1"/>
<text x="0" y="0" transform="translate(601.4 120.58) scale(0.98 1.04)" font-size="9.4" text-anchor="end" font-weight="bold" fill="#1c1c1c" stroke="#1c1c1c" stroke-width="0.22">1000</text>
<line x1="606.2" y1="164.3" x2="608.4" y2="164.3" stroke="#5a5a5a" stroke-width="1"/>
<text x="0" y="0" transform="translate(601.4 168.08) scale(0.98 1.04)" font-size="9.4" text-anchor="end" font-weight="bold" fill="#1c1c1c" stroke="#1c1c1c" stroke-width="0.22">0</text>
<line x1="627.5" y1="164.3" x2="627.5" y2="166.5" stroke="#5a5a5a" stroke-width="1"/>
<line x1="646.6" y1="164.3" x2="646.6" y2="166.5" stroke="#5a5a5a" stroke-width="1"/>
<line x1="665.7" y1="164.3" x2="665.7" y2="166.5" stroke="#5a5a5a" stroke-width="1"/>
<line x1="684.8" y1="164.3" x2="684.8" y2="166.5" stroke="#5a5a5a" stroke-width="1"/>
<text x="0" y="0" transform="translate(620.85 175.8) rotate(-45)" font-size="9.7" text-anchor="end" font-weight="bold" fill="#1c1c1c" stroke="#1c1c1c" stroke-width="0.22">PBS</text>
<text x="0" y="0" transform="translate(639.95 175.8) rotate(-45)" font-size="9.7" text-anchor="end" font-weight="bold" fill="#1c1c1c" stroke="#1c1c1c" stroke-width="0.22">CT</text>
<text x="0" y="0" transform="translate(659.05 175.8) rotate(-45)" font-size="9.7" text-anchor="end" font-weight="bold" fill="#1c1c1c" stroke="#1c1c1c" stroke-width="0.22">CT, GL iv</text>
<text x="0" y="0" transform="translate(678.15 175.8) rotate(-45)" font-size="9.7" text-anchor="end" font-weight="bold" fill="#1c1c1c" stroke="#1c1c1c" stroke-width="0.22">CT, GL po</text>
<line x1="617.95" y1="108.4" x2="617.95" y2="115" stroke="#4a4a4a" stroke-width="1"/>
<line x1="616.05" y1="108.8" x2="619.85" y2="108.8" stroke="#4a4a4a" stroke-width="1.1"/>
<rect x="613.95" y="115" width="8" height="49.3" fill="#151515"/>
<line x1="637.05" y1="57.5" x2="637.05" y2="64.5" stroke="#4a4a4a" stroke-width="1"/>
<line x1="635.15" y1="57.9" x2="638.95" y2="57.9" stroke="#4a4a4a" stroke-width="1.1"/>
<rect x="633.05" y="64.5" width="8" height="99.8" fill="#151515"/>
<line x1="656.15" y1="86.1" x2="656.15" y2="97.9" stroke="#4a4a4a" stroke-width="1"/>
<line x1="654.25" y1="86.5" x2="658.05" y2="86.5" stroke="#4a4a4a" stroke-width="1.1"/>
<rect x="652.15" y="97.9" width="8" height="66.4" fill="#151515"/>
<line x1="675.25" y1="81.4" x2="675.25" y2="89.1" stroke="#4a4a4a" stroke-width="1"/>
<line x1="673.35" y1="81.8" x2="677.15" y2="81.8" stroke="#4a4a4a" stroke-width="1.1"/>
<rect x="671.25" y="89.1" width="8" height="75.2" fill="#151515"/>
<line x1="618.4" y1="52.9" x2="636.8" y2="52.9" stroke="#222" stroke-width="1.6"/>
<path d="M624.6 45L624.6 51.4M621.83 46.6L627.37 49.8M621.83 49.8L627.37 46.6" stroke="#222" stroke-width="1.35" fill="none"/>
<path d="M630.8 45L630.8 51.4M628.03 46.6L633.57 49.8M628.03 49.8L633.57 46.6" stroke="#222" stroke-width="1.35" fill="none"/>
<line x1="636.8" y1="43.3" x2="656.4" y2="43.3" stroke="#222" stroke-width="1.6"/>
<path d="M646.5 35L646.5 41.4M643.73 36.6L649.27 39.8M643.73 39.8L649.27 36.6" stroke="#222" stroke-width="1.35" fill="none"/>
<line x1="636.8" y1="32.4" x2="675.7" y2="32.4" stroke="#222" stroke-width="1.6"/>
<path d="M656.6 24L656.6 30.4M653.83 25.6L659.37 28.8M653.83 28.8L659.37 25.6" stroke="#222" stroke-width="1.35" fill="none"/>
<text x="541.3" y="240.8" font-size="15.5" text-anchor="start" font-weight="bold" fill="#1c1c1c" stroke="#1c1c1c" stroke-width="0.22">f</text>
<text x="0" y="0" transform="translate(563.8 318.7) rotate(-90)" font-size="11.7" text-anchor="middle" font-weight="bold" fill="#1c1c1c" stroke="#1c1c1c" stroke-width="0.22">% proliferated CD8<tspan font-size="7.8" dy="-4">+</tspan><tspan dy="4"> OT-I T cells</tspan></text>
<line x1="591" y1="239.9" x2="591" y2="395.4" stroke="#5a5a5a" stroke-width="1.1"/>
<line x1="591" y1="395.4" x2="674.2" y2="395.4" stroke="#5a5a5a" stroke-width="1.1"/>
<line x1="588.8" y1="240.4" x2="591" y2="240.4" stroke="#5a5a5a" stroke-width="1"/>
<text x="0" y="0" transform="translate(583.4 244.54) scale(0.98 1.04)" font-size="10.4" text-anchor="end" font-weight="bold" fill="#1c1c1c" stroke="#1c1c1c" stroke-width="0.22">40</text>
<line x1="588.8" y1="279.1" x2="591" y2="279.1" stroke="#5a5a5a" stroke-width="1"/>
<text x="0" y="0" transform="translate(583.4 283.24) scale(0.98 1.04)" font-size="10.4" text-anchor="end" font-weight="bold" fill="#1c1c1c" stroke="#1c1c1c" stroke-width="0.22">30</text>
<line x1="588.8" y1="317.8" x2="591" y2="317.8" stroke="#5a5a5a" stroke-width="1"/>
<text x="0" y="0" transform="translate(583.4 321.94) scale(0.98 1.04)" font-size="10.4" text-anchor="end" font-weight="bold" fill="#1c1c1c" stroke="#1c1c1c" stroke-width="0.22">20</text>
<line x1="588.8" y1="356.6" x2="591" y2="356.6" stroke="#5a5a5a" stroke-width="1"/>
<text x="0" y="0" transform="translate(583.4 360.74) scale(0.98 1.04)" font-size="10.4" text-anchor="end" font-weight="bold" fill="#1c1c1c" stroke="#1c1c1c" stroke-width="0.22">10</text>
<line x1="588.8" y1="395.4" x2="591" y2="395.4" stroke="#5a5a5a" stroke-width="1"/>
<text x="0" y="0" transform="translate(583.4 399.54) scale(0.98 1.04)" font-size="10.4" text-anchor="end" font-weight="bold" fill="#1c1c1c" stroke="#1c1c1c" stroke-width="0.22">0</text>
<line x1="607.64" y1="395.4" x2="607.64" y2="397.6" stroke="#5a5a5a" stroke-width="1"/>
<line x1="624.28" y1="395.4" x2="624.28" y2="397.6" stroke="#5a5a5a" stroke-width="1"/>
<line x1="640.92" y1="395.4" x2="640.92" y2="397.6" stroke="#5a5a5a" stroke-width="1"/>
<line x1="657.56" y1="395.4" x2="657.56" y2="397.6" stroke="#5a5a5a" stroke-width="1"/>
<line x1="674.2" y1="395.4" x2="674.2" y2="397.6" stroke="#5a5a5a" stroke-width="1"/>
<text x="0" y="0" transform="translate(601.92 407.5) rotate(-45)" font-size="10.3" text-anchor="end" font-weight="bold" fill="#1c1c1c" stroke="#1c1c1c" stroke-width="0.22">No DCs</text>
<text x="0" y="0" transform="translate(618.56 407.5) rotate(-45)" font-size="10.3" text-anchor="end" font-weight="bold" fill="#1c1c1c" stroke="#1c1c1c" stroke-width="0.22">CT</text>
<text x="0" y="0" transform="translate(635.2 407.5) rotate(-45)" font-size="10.3" text-anchor="end" font-weight="bold" fill="#1c1c1c" stroke="#1c1c1c" stroke-width="0.22">OVA+CT</text>
<text x="0" y="0" transform="translate(651.84 407.5) rotate(-45)" font-size="10.3" text-anchor="end" font-weight="bold" fill="#1c1c1c" stroke="#1c1c1c" stroke-width="0.22">OVA+CT, GL iv</text>
<text x="0" y="0" transform="translate(668.48 407.5) rotate(-45)" font-size="10.3" text-anchor="end" font-weight="bold" fill="#1c1c1c" stroke="#1c1c1c" stroke-width="0.22">OVA+CT, GL po</text>
<rect x="595.82" y="394.6" width="7" height="0.8" fill="#151515"/>
<line x1="615.96" y1="384.4" x2="615.96" y2="388" stroke="#4a4a4a" stroke-width="1"/>
<line x1="614.06" y1="384.8" x2="617.86" y2="384.8" stroke="#4a4a4a" stroke-width="1.1"/>
<rect x="612.46" y="388" width="7" height="7.4" fill="#151515"/>
<line x1="632.6" y1="277.2" x2="632.6" y2="283" stroke="#4a4a4a" stroke-width="1"/>
<line x1="630.7" y1="277.6" x2="634.5" y2="277.6" stroke="#4a4a4a" stroke-width="1.1"/>
<rect x="629.1" y="283" width="7" height="112.4" fill="#151515"/>
<line x1="649.24" y1="330.3" x2="649.24" y2="334.8" stroke="#4a4a4a" stroke-width="1"/>
<line x1="647.34" y1="330.7" x2="651.14" y2="330.7" stroke="#4a4a4a" stroke-width="1.1"/>
<rect x="645.74" y="334.8" width="7" height="60.6" fill="#151515"/>
<line x1="665.88" y1="309.5" x2="665.88" y2="316" stroke="#4a4a4a" stroke-width="1"/>
<line x1="663.98" y1="309.9" x2="667.78" y2="309.9" stroke="#4a4a4a" stroke-width="1.1"/>
<rect x="662.38" y="316" width="7" height="79.4" fill="#151515"/>
<line x1="615.5" y1="267.6" x2="632.5" y2="267.6" stroke="#222" stroke-width="1.6"/>
<path d="M618.1 258.7L618.1 265.1M615.33 260.3L620.87 263.5M615.33 263.5L620.87 260.3" stroke="#222" stroke-width="1.35" fill="none"/>
<path d="M624.3 258.7L624.3 265.1M621.53 260.3L627.07 263.5M621.53 263.5L627.07 260.3" stroke="#222" stroke-width="1.35" fill="none"/>
<path d="M630.5 258.7L630.5 265.1M627.73 260.3L633.27 263.5M627.73 263.5L633.27 260.3" stroke="#222" stroke-width="1.35" fill="none"/>
<line x1="632.5" y1="254.7" x2="648.8" y2="254.7" stroke="#222" stroke-width="1.6"/>
<path d="M637.9 246.4L637.9 252.8M635.13 248L640.67 251.2M635.13 251.2L640.67 248" stroke="#222" stroke-width="1.35" fill="none"/>
<path d="M644.1 246.4L644.1 252.8M641.33 248L646.87 251.2M641.33 251.2L646.87 248" stroke="#222" stroke-width="1.35" fill="none"/>
<line x1="632.5" y1="241.9" x2="665.6" y2="241.9" stroke="#222" stroke-width="1.6"/>
<path d="M649.6 233.1L649.6 239.5M646.83 234.7L652.37 237.9M646.83 237.9L652.37 234.7" stroke="#222" stroke-width="1.35" fill="none"/>
<text x="30.4" y="494.6" font-size="15.5" text-anchor="start" font-weight="bold" fill="#1c1c1c" stroke="#1c1c1c" stroke-width="0.22">g</text>
<text x="104.9" y="494.6" font-size="10.9" text-anchor="middle" font-weight="bold" fill="#1c1c1c" stroke="#1c1c1c" stroke-width="0.22">E.G7-OVA</text>
<text x="201.7" y="492.9" font-size="10.4" text-anchor="middle" font-weight="bold" fill="#1c1c1c" stroke="#1c1c1c" stroke-width="0.22">EL4<tspan font-size="7" dy="-3.5">+</tspan><tspan dy="3.5">OVAp</tspan></text>
<text x="0" y="0" transform="translate(42.5 568.5) rotate(-90)" font-size="10.8" text-anchor="middle" font-weight="bold" fill="#1c1c1c" stroke="#1c1c1c" stroke-width="0.22">% specific lysis</text>
<line x1="67.4" y1="497.1" x2="67.4" y2="639.2" stroke="#5a5a5a" stroke-width="1.1"/>
<line x1="67.4" y1="639.2" x2="144.1" y2="639.2" stroke="#5a5a5a" stroke-width="1.1"/>
<line x1="65.2" y1="497.6" x2="67.4" y2="497.6" stroke="#5a5a5a" stroke-width="1"/>
<text x="0" y="0" transform="translate(60.4 501.38) scale(0.98 1.04)" font-size="9.4" text-anchor="end" font-weight="bold" fill="#1c1c1c" stroke="#1c1c1c" stroke-width="0.22">20</text>
<line x1="65.2" y1="568.4" x2="67.4" y2="568.4" stroke="#5a5a5a" stroke-width="1"/>
<text x="0" y="0" transform="translate(60.4 572.18) scale(0.98 1.04)" font-size="9.4" text-anchor="end" font-weight="bold" fill="#1c1c1c" stroke="#1c1c1c" stroke-width="0.22">10</text>
<line x1="65.2" y1="639.2" x2="67.4" y2="639.2" stroke="#5a5a5a" stroke-width="1"/>
<text x="0" y="0" transform="translate(60.4 642.98) scale(0.98 1.04)" font-size="9.4" text-anchor="end" font-weight="bold" fill="#1c1c1c" stroke="#1c1c1c" stroke-width="0.22">0</text>
<line x1="82.74" y1="639.2" x2="82.74" y2="641.4" stroke="#5a5a5a" stroke-width="1"/>
<line x1="98.08" y1="639.2" x2="98.08" y2="641.4" stroke="#5a5a5a" stroke-width="1"/>
<line x1="113.42" y1="639.2" x2="113.42" y2="641.4" stroke="#5a5a5a" stroke-width="1"/>
<line x1="128.76" y1="639.2" x2="128.76" y2="641.4" stroke="#5a5a5a" stroke-width="1"/>
<line x1="144.1" y1="639.2" x2="144.1" y2="641.4" stroke="#5a5a5a" stroke-width="1"/>
<text x="0" y="0" transform="translate(77.57 651.6) rotate(-45)" font-size="9.7" text-anchor="end" font-weight="bold" fill="#1c1c1c" stroke="#1c1c1c" stroke-width="0.22">No DCs</text>
<text x="0" y="0" transform="translate(92.91 651.6) rotate(-45)" font-size="9.7" text-anchor="end" font-weight="bold" fill="#1c1c1c" stroke="#1c1c1c" stroke-width="0.22">CT</text>
<text x="0" y="0" transform="translate(108.25 651.6) rotate(-45)" font-size="9.7" text-anchor="end" font-weight="bold" fill="#1c1c1c" stroke="#1c1c1c" stroke-width="0.22">OVA+CT</text>
<text x="0" y="0" transform="translate(123.59 651.6) rotate(-45)" font-size="9.7" text-anchor="end" font-weight="bold" fill="#1c1c1c" stroke="#1c1c1c" stroke-width="0.22">OVA+CT, GL iv</text>
<text x="0" y="0" transform="translate(138.93 651.6) rotate(-45)" font-size="9.7" text-anchor="end" font-weight="bold" fill="#1c1c1c" stroke="#1c1c1c" stroke-width="0.22">OVA+CT, GL po</text>
<line x1="75.07" y1="624.8" x2="75.07" y2="629.7" stroke="#4a4a4a" stroke-width="1"/>
<line x1="73.17" y1="625.2" x2="76.97" y2="625.2" stroke="#4a4a4a" stroke-width="1.1"/>
<rect x="71.77" y="629.7" width="6.6" height="9.5" fill="#151515"/>
<line x1="90.41" y1="621.5" x2="90.41" y2="628.2" stroke="#4a4a4a" stroke-width="1"/>
<line x1="88.51" y1="621.9" x2="92.31" y2="621.9" stroke="#4a4a4a" stroke-width="1.1"/>
<rect x="87.11" y="628.2" width="6.6" height="11" fill="#151515"/>
<line x1="105.75" y1="550.7" x2="105.75" y2="557.5" stroke="#4a4a4a" stroke-width="1"/>
<line x1="103.85" y1="551.1" x2="107.65" y2="551.1" stroke="#4a4a4a" stroke-width="1.1"/>
<rect x="102.45" y="557.5" width="6.6" height="81.7" fill="#151515"/>
<line x1="121.09" y1="617.4" x2="121.09" y2="624.2" stroke="#4a4a4a" stroke-width="1"/>
<line x1="119.19" y1="617.8" x2="122.99" y2="617.8" stroke="#4a4a4a" stroke-width="1.1"/>
<rect x="117.79" y="624.2" width="6.6" height="15" fill="#151515"/>
<line x1="136.43" y1="598.5" x2="136.43" y2="604.6" stroke="#4a4a4a" stroke-width="1"/>
<line x1="134.53" y1="598.9" x2="138.33" y2="598.9" stroke="#4a4a4a" stroke-width="1.1"/>
<rect x="133.13" y="604.6" width="6.6" height="34.6" fill="#151515"/>
<line x1="90.1" y1="545.2" x2="104.8" y2="545.2" stroke="#222" stroke-width="1.6"/>
<path d="M91.4 537.75L91.4 543.05M89.11 539.07L93.69 541.73M89.11 541.73L93.69 539.07" stroke="#222" stroke-width="1.35" fill="none"/>
<path d="M97.2 537.75L97.2 543.05M94.91 539.07L99.49 541.73M94.91 541.73L99.49 539.07" stroke="#222" stroke-width="1.35" fill="none"/>
<path d="M103 537.75L103 543.05M100.71 539.07L105.29 541.73M100.71 541.73L105.29 539.07" stroke="#222" stroke-width="1.35" fill="none"/>
<line x1="105.4" y1="533.4" x2="120.6" y2="533.4" stroke="#222" stroke-width="1.6"/>
<path d="M107.2 525.55L107.2 530.85M104.91 526.88L109.49 529.53M104.91 529.53L109.49 526.88" stroke="#222" stroke-width="1.35" fill="none"/>
<path d="M113 525.55L113 530.85M110.71 526.88L115.29 529.53M110.71 529.53L115.29 526.88" stroke="#222" stroke-width="1.35" fill="none"/>
<path d="M118.8 525.55L118.8 530.85M116.51 526.88L121.09 529.53M116.51 529.53L121.09 526.88" stroke="#222" stroke-width="1.35" fill="none"/>
<line x1="105.4" y1="520.1" x2="136.1" y2="520.1" stroke="#222" stroke-width="1.6"/>
<path d="M117.9 512.75L117.9 518.05M115.61 514.07L120.19 516.73M115.61 516.73L120.19 514.07" stroke="#222" stroke-width="1.35" fill="none"/>
<path d="M123.7 512.75L123.7 518.05M121.41 514.07L125.99 516.73M121.41 516.73L125.99 514.07" stroke="#222" stroke-width="1.35" fill="none"/>
<line x1="167.5" y1="498" x2="167.5" y2="639.2" stroke="#5a5a5a" stroke-width="1.1"/>
<line x1="167.5" y1="639.2" x2="240.6" y2="639.2" stroke="#5a5a5a" stroke-width="1.1"/>
<line x1="165.3" y1="526.6" x2="167.5" y2="526.6" stroke="#5a5a5a" stroke-width="1"/>
<text x="0" y="0" transform="translate(160.8 530.74) scale(0.98 1.04)" font-size="10.4" text-anchor="end" font-weight="bold" fill="#1c1c1c" stroke="#1c1c1c" stroke-width="0.22">20</text>
<line x1="165.3" y1="582.9" x2="167.5" y2="582.9" stroke="#5a5a5a" stroke-width="1"/>
<text x="0" y="0" transform="translate(160.8 587.04) scale(0.98 1.04)" font-size="10.4" text-anchor="end" font-weight="bold" fill="#1c1c1c" stroke="#1c1c1c" stroke-width="0.22">10</text>
<line x1="165.3" y1="639.2" x2="167.5" y2="639.2" stroke="#5a5a5a" stroke-width="1"/>
<text x="0" y="0" transform="translate(160.8 643.34) scale(0.98 1.04)" font-size="10.4" text-anchor="end" font-weight="bold" fill="#1c1c1c" stroke="#1c1c1c" stroke-width="0.22">0</text>
<line x1="182.12" y1="639.2" x2="182.12" y2="641.4" stroke="#5a5a5a" stroke-width="1"/>
<line x1="196.74" y1="639.2" x2="196.74" y2="641.4" stroke="#5a5a5a" stroke-width="1"/>
<line x1="211.36" y1="639.2" x2="211.36" y2="641.4" stroke="#5a5a5a" stroke-width="1"/>
<line x1="225.98" y1="639.2" x2="225.98" y2="641.4" stroke="#5a5a5a" stroke-width="1"/>
<line x1="240.6" y1="639.2" x2="240.6" y2="641.4" stroke="#5a5a5a" stroke-width="1"/>
<text x="0" y="0" transform="translate(177.31 651.6) rotate(-45)" font-size="9.7" text-anchor="end" font-weight="bold" fill="#1c1c1c" stroke="#1c1c1c" stroke-width="0.22">No DCs</text>
<text x="0" y="0" transform="translate(191.93 651.6) rotate(-45)" font-size="9.7" text-anchor="end" font-weight="bold" fill="#1c1c1c" stroke="#1c1c1c" stroke-width="0.22">CT</text>
<text x="0" y="0" transform="translate(206.55 651.6) rotate(-45)" font-size="9.7" text-anchor="end" font-weight="bold" fill="#1c1c1c" stroke="#1c1c1c" stroke-width="0.22">OVA+CT</text>
<text x="0" y="0" transform="translate(221.17 651.6) rotate(-45)" font-size="9.7" text-anchor="end" font-weight="bold" fill="#1c1c1c" stroke="#1c1c1c" stroke-width="0.22">OVA+CT, GL iv</text>
<text x="0" y="0" transform="translate(235.79 651.6) rotate(-45)" font-size="9.7" text-anchor="end" font-weight="bold" fill="#1c1c1c" stroke="#1c1c1c" stroke-width="0.22">OVA+CT, GL po</text>
<line x1="174.81" y1="619" x2="174.81" y2="624.2" stroke="#4a4a4a" stroke-width="1"/>
<line x1="172.91" y1="619.4" x2="176.71" y2="619.4" stroke="#4a4a4a" stroke-width="1.1"/>
<rect x="171.51" y="624.2" width="6.6" height="15" fill="#151515"/>
<line x1="189.43" y1="619.5" x2="189.43" y2="623.5" stroke="#4a4a4a" stroke-width="1"/>
<line x1="187.53" y1="619.9" x2="191.33" y2="619.9" stroke="#4a4a4a" stroke-width="1.1"/>
<rect x="186.13" y="623.5" width="6.6" height="15.7" fill="#151515"/>
<line x1="204.05" y1="549.3" x2="204.05" y2="553.2" stroke="#4a4a4a" stroke-width="1"/>
<line x1="202.15" y1="549.7" x2="205.95" y2="549.7" stroke="#4a4a4a" stroke-width="1.1"/>
<rect x="200.75" y="553.2" width="6.6" height="86" fill="#151515"/>
<line x1="218.67" y1="618.2" x2="218.67" y2="620.7" stroke="#4a4a4a" stroke-width="1"/>
<line x1="216.77" y1="618.6" x2="220.57" y2="618.6" stroke="#4a4a4a" stroke-width="1.1"/>
<rect x="215.37" y="620.7" width="6.6" height="18.5" fill="#151515"/>
<line x1="233.29" y1="595.3" x2="233.29" y2="598" stroke="#4a4a4a" stroke-width="1"/>
<line x1="231.39" y1="595.7" x2="235.19" y2="595.7" stroke="#4a4a4a" stroke-width="1.1"/>
<rect x="229.99" y="598" width="6.6" height="41.2" fill="#151515"/>
<line x1="187.9" y1="543.2" x2="203.2" y2="543.2" stroke="#222" stroke-width="1.6"/>
<path d="M192.2 536.45L192.2 541.75M189.91 537.77L194.49 540.43M189.91 540.43L194.49 537.77" stroke="#222" stroke-width="1.35" fill="none"/>
<path d="M198 536.45L198 541.75M195.71 537.77L200.29 540.43M195.71 540.43L200.29 537.77" stroke="#222" stroke-width="1.35" fill="none"/>
<line x1="203.2" y1="531.3" x2="218" y2="531.3" stroke="#222" stroke-width="1.6"/>
<path d="M207.5 523.55L207.5 528.85M205.21 524.88L209.79 527.53M205.21 527.53L209.79 524.88" stroke="#222" stroke-width="1.35" fill="none"/>
<path d="M213.3 523.55L213.3 528.85M211.01 524.88L215.59 527.53M211.01 527.53L215.59 524.88" stroke="#222" stroke-width="1.35" fill="none"/>
<line x1="203.2" y1="518.4" x2="233.5" y2="518.4" stroke="#222" stroke-width="1.6"/>
<path d="M218.2 510.85L218.2 516.15M215.91 512.17L220.49 514.83M215.91 514.83L220.49 512.17" stroke="#222" stroke-width="1.35" fill="none"/>
<text x="265.7" y="495.3" font-size="15.5" text-anchor="start" font-weight="bold" fill="#1c1c1c" stroke="#1c1c1c" stroke-width="0.22">h</text>
<text x="352" y="492.7" font-size="10.8" text-anchor="middle" font-weight="bold" fill="#1c1c1c" stroke="#1c1c1c" stroke-width="0.22">Faecal IgA</text>
<text x="481.5" y="492.1" font-size="10.4" text-anchor="middle" font-weight="bold" fill="#1c1c1c" stroke="#1c1c1c" stroke-width="0.22">Plasma IgG1</text>
<text x="0" y="0" transform="translate(271.3 571.6) rotate(-90)" font-size="11.2" text-anchor="middle" font-weight="bold" fill="#1c1c1c" stroke="#1c1c1c" stroke-width="0.22">µg/g</text>
<text x="0" y="0" transform="translate(409.3 574) rotate(-90)" font-size="10.8" text-anchor="middle" font-weight="bold" fill="#1c1c1c" stroke="#1c1c1c" stroke-width="0.22">µg/ml</text>
<line x1="304.6" y1="503.8" x2="304.6" y2="639" stroke="#5a5a5a" stroke-width="1.1"/>
<line x1="304.6" y1="639" x2="401.8" y2="639" stroke="#5a5a5a" stroke-width="1.1"/>
<line x1="302.4" y1="504.3" x2="304.6" y2="504.3" stroke="#5a5a5a" stroke-width="1"/>
<text x="0" y="0" transform="translate(298.3 508.08) scale(0.98 1.04)" font-size="9.4" text-anchor="end" font-weight="bold" fill="#1c1c1c" stroke="#1c1c1c" stroke-width="0.22">1000</text>
<line x1="302.4" y1="531.2" x2="304.6" y2="531.2" stroke="#5a5a5a" stroke-width="1"/>
<text x="0" y="0" transform="translate(298.3 534.98) scale(0.98 1.04)" font-size="9.4" text-anchor="end" font-weight="bold" fill="#1c1c1c" stroke="#1c1c1c" stroke-width="0.22">800</text>
<line x1="302.4" y1="558.1" x2="304.6" y2="558.1" stroke="#5a5a5a" stroke-width="1"/>
<text x="0" y="0" transform="translate(298.3 561.88) scale(0.98 1.04)" font-size="9.4" text-anchor="end" font-weight="bold" fill="#1c1c1c" stroke="#1c1c1c" stroke-width="0.22">600</text>
<line x1="302.4" y1="585" x2="304.6" y2="585" stroke="#5a5a5a" stroke-width="1"/>
<text x="0" y="0" transform="translate(298.3 588.78) scale(0.98 1.04)" font-size="9.4" text-anchor="end" font-weight="bold" fill="#1c1c1c" stroke="#1c1c1c" stroke-width="0.22">400</text>
<line x1="302.4" y1="612" x2="304.6" y2="612" stroke="#5a5a5a" stroke-width="1"/>
<text x="0" y="0" transform="translate(298.3 615.78) scale(0.98 1.04)" font-size="9.4" text-anchor="end" font-weight="bold" fill="#1c1c1c" stroke="#1c1c1c" stroke-width="0.22">200</text>
<line x1="302.4" y1="639" x2="304.6" y2="639" stroke="#5a5a5a" stroke-width="1"/>
<text x="0" y="0" transform="translate(298.3 642.78) scale(0.98 1.04)" font-size="9.4" text-anchor="end" font-weight="bold" fill="#1c1c1c" stroke="#1c1c1c" stroke-width="0.22">0</text>
<line x1="320.8" y1="639" x2="320.8" y2="641.2" stroke="#5a5a5a" stroke-width="1"/>
<line x1="337" y1="639" x2="337" y2="641.2" stroke="#5a5a5a" stroke-width="1"/>
<line x1="353.2" y1="639" x2="353.2" y2="641.2" stroke="#5a5a5a" stroke-width="1"/>
<line x1="369.4" y1="639" x2="369.4" y2="641.2" stroke="#5a5a5a" stroke-width="1"/>
<line x1="385.6" y1="639" x2="385.6" y2="641.2" stroke="#5a5a5a" stroke-width="1"/>
<line x1="401.8" y1="639" x2="401.8" y2="641.2" stroke="#5a5a5a" stroke-width="1"/>
<text x="0" y="0" transform="translate(315.6 651.2) rotate(-45)" font-size="9.7" text-anchor="end" font-weight="bold" fill="#1c1c1c" stroke="#1c1c1c" stroke-width="0.22">OVA</text>
<text x="0" y="0" transform="translate(331.8 651.2) rotate(-45)" font-size="9.7" text-anchor="end" font-weight="bold" fill="#1c1c1c" stroke="#1c1c1c" stroke-width="0.22">OVA+CTA</text>
<text x="0" y="0" transform="translate(348 651.2) rotate(-45)" font-size="9.7" text-anchor="end" font-weight="bold" fill="#1c1c1c" stroke="#1c1c1c" stroke-width="0.22">OVA+CTB</text>
<text x="0" y="0" transform="translate(364.2 651.2) rotate(-45)" font-size="9.7" text-anchor="end" font-weight="bold" fill="#1c1c1c" stroke="#1c1c1c" stroke-width="0.22">OVA+CT</text>
<text x="0" y="0" transform="translate(380.4 651.2) rotate(-45)" font-size="9.7" text-anchor="end" font-weight="bold" fill="#1c1c1c" stroke="#1c1c1c" stroke-width="0.22">OVA+CT, GL iv</text>
<text x="0" y="0" transform="translate(396.6 651.2) rotate(-45)" font-size="9.7" text-anchor="end" font-weight="bold" fill="#1c1c1c" stroke="#1c1c1c" stroke-width="0.22">OVA+CT, GL po</text>
<rect x="309.6" y="637.4" width="6.2" height="1.6" fill="#151515"/>
<rect x="325.8" y="638.5" width="6.2" height="0.5" fill="#151515"/>
<rect x="342" y="638.5" width="6.2" height="0.5" fill="#151515"/>
<line x1="361.3" y1="523.5" x2="361.3" y2="545.2" stroke="#4a4a4a" stroke-width="1"/>
<line x1="359.4" y1="523.9" x2="363.2" y2="523.9" stroke="#4a4a4a" stroke-width="1.1"/>
<rect x="358.2" y="545.2" width="6.2" height="93.8" fill="#151515"/>
<line x1="377.5" y1="629.3" x2="377.5" y2="632.3" stroke="#4a4a4a" stroke-width="1"/>
<line x1="375.6" y1="629.7" x2="379.4" y2="629.7" stroke="#4a4a4a" stroke-width="1.1"/>
<rect x="374.4" y="632.3" width="6.2" height="6.7" fill="#151515"/>
<line x1="393.7" y1="601.3" x2="393.7" y2="613.9" stroke="#4a4a4a" stroke-width="1"/>
<line x1="391.8" y1="601.7" x2="395.6" y2="601.7" stroke="#4a4a4a" stroke-width="1.1"/>
<rect x="390.6" y="613.9" width="6.2" height="25.1" fill="#151515"/>
<line x1="312.1" y1="519" x2="361.6" y2="519" stroke="#222" stroke-width="1.6"/>
<path d="M336.6 510.7L336.6 517.1M333.83 512.3L339.37 515.5M333.83 515.5L339.37 512.3" stroke="#222" stroke-width="1.35" fill="none"/>
<line x1="361.6" y1="515.4" x2="376.9" y2="515.4" stroke="#222" stroke-width="1.6"/>
<path d="M369.3 506.7L369.3 513.1M366.53 508.3L372.07 511.5M366.53 511.5L372.07 508.3" stroke="#222" stroke-width="1.35" fill="none"/>
<line x1="361.6" y1="503.7" x2="393.9" y2="503.7" stroke="#222" stroke-width="1.6"/>
<path d="M377.5 495.4L377.5 501.8M374.73 497L380.27 500.2M374.73 500.2L380.27 497" stroke="#222" stroke-width="1.35" fill="none"/>
<line x1="436.8" y1="506.3" x2="436.8" y2="639" stroke="#5a5a5a" stroke-width="1.1"/>
<line x1="436.8" y1="639" x2="530.4" y2="639" stroke="#5a5a5a" stroke-width="1.1"/>
<line x1="434.6" y1="506.8" x2="436.8" y2="506.8" stroke="#5a5a5a" stroke-width="1"/>
<text x="0" y="0" transform="translate(431.2 510.94) scale(0.98 1.04)" font-size="10.4" text-anchor="end" font-weight="bold" fill="#1c1c1c" stroke="#1c1c1c" stroke-width="0.22">400</text>
<line x1="434.6" y1="539.9" x2="436.8" y2="539.9" stroke="#5a5a5a" stroke-width="1"/>
<text x="0" y="0" transform="translate(431.2 544.04) scale(0.98 1.04)" font-size="10.4" text-anchor="end" font-weight="bold" fill="#1c1c1c" stroke="#1c1c1c" stroke-width="0.22">300</text>
<line x1="434.6" y1="572.8" x2="436.8" y2="572.8" stroke="#5a5a5a" stroke-width="1"/>
<text x="0" y="0" transform="translate(431.2 576.94) scale(0.98 1.04)" font-size="10.4" text-anchor="end" font-weight="bold" fill="#1c1c1c" stroke="#1c1c1c" stroke-width="0.22">200</text>
<line x1="434.6" y1="605.9" x2="436.8" y2="605.9" stroke="#5a5a5a" stroke-width="1"/>
<text x="0" y="0" transform="translate(431.2 610.04) scale(0.98 1.04)" font-size="10.4" text-anchor="end" font-weight="bold" fill="#1c1c1c" stroke="#1c1c1c" stroke-width="0.22">100</text>
<line x1="434.6" y1="639" x2="436.8" y2="639" stroke="#5a5a5a" stroke-width="1"/>
<text x="0" y="0" transform="translate(431.2 643.14) scale(0.98 1.04)" font-size="10.4" text-anchor="end" font-weight="bold" fill="#1c1c1c" stroke="#1c1c1c" stroke-width="0.22">0</text>
<line x1="452.4" y1="639" x2="452.4" y2="641.2" stroke="#5a5a5a" stroke-width="1"/>
<line x1="468" y1="639" x2="468" y2="641.2" stroke="#5a5a5a" stroke-width="1"/>
<line x1="483.6" y1="639" x2="483.6" y2="641.2" stroke="#5a5a5a" stroke-width="1"/>
<line x1="499.2" y1="639" x2="499.2" y2="641.2" stroke="#5a5a5a" stroke-width="1"/>
<line x1="514.8" y1="639" x2="514.8" y2="641.2" stroke="#5a5a5a" stroke-width="1"/>
<line x1="530.4" y1="639" x2="530.4" y2="641.2" stroke="#5a5a5a" stroke-width="1"/>
<text x="0" y="0" transform="translate(447.5 651.2) rotate(-45)" font-size="9.7" text-anchor="end" font-weight="bold" fill="#1c1c1c" stroke="#1c1c1c" stroke-width="0.22">OVA</text>
<text x="0" y="0" transform="translate(463.1 651.2) rotate(-45)" font-size="9.7" text-anchor="end" font-weight="bold" fill="#1c1c1c" stroke="#1c1c1c" stroke-width="0.22">OVA+CTA</text>
<text x="0" y="0" transform="translate(478.7 651.2) rotate(-45)" font-size="9.7" text-anchor="end" font-weight="bold" fill="#1c1c1c" stroke="#1c1c1c" stroke-width="0.22">OVA+CTB</text>
<text x="0" y="0" transform="translate(494.3 651.2) rotate(-45)" font-size="9.7" text-anchor="end" font-weight="bold" fill="#1c1c1c" stroke="#1c1c1c" stroke-width="0.22">OVA+CT</text>
<text x="0" y="0" transform="translate(509.9 651.2) rotate(-45)" font-size="9.7" text-anchor="end" font-weight="bold" fill="#1c1c1c" stroke="#1c1c1c" stroke-width="0.22">OVA+CT, GL iv</text>
<text x="0" y="0" transform="translate(525.5 651.2) rotate(-45)" font-size="9.7" text-anchor="end" font-weight="bold" fill="#1c1c1c" stroke="#1c1c1c" stroke-width="0.22">OVA+CT, GL po</text>
<rect x="441.3" y="638.5" width="6.6" height="0.5" fill="#151515"/>
<rect x="456.9" y="638" width="6.6" height="1" fill="#151515"/>
<rect x="472.5" y="638.5" width="6.6" height="0.5" fill="#151515"/>
<line x1="491.4" y1="537.4" x2="491.4" y2="547.7" stroke="#4a4a4a" stroke-width="1"/>
<line x1="489.5" y1="537.8" x2="493.3" y2="537.8" stroke="#4a4a4a" stroke-width="1.1"/>
<rect x="488.1" y="547.7" width="6.6" height="91.3" fill="#151515"/>
<line x1="507" y1="558.3" x2="507" y2="566.1" stroke="#4a4a4a" stroke-width="1"/>
<line x1="505.1" y1="558.7" x2="508.9" y2="558.7" stroke="#4a4a4a" stroke-width="1.1"/>
<rect x="503.7" y="566.1" width="6.6" height="72.9" fill="#151515"/>
<line x1="522.6" y1="539.9" x2="522.6" y2="555.2" stroke="#4a4a4a" stroke-width="1"/>
<line x1="520.7" y1="540.3" x2="524.5" y2="540.3" stroke="#4a4a4a" stroke-width="1.1"/>
<rect x="519.3" y="555.2" width="6.6" height="83.8" fill="#151515"/>
<line x1="441.9" y1="533" x2="490.9" y2="533" stroke="#222" stroke-width="1.6"/>
<path d="M463.3 525L463.3 531.4M460.53 526.6L466.07 529.8M460.53 529.8L466.07 526.6" stroke="#222" stroke-width="1.35" fill="none"/>
<path d="M469.5 525L469.5 531.4M466.73 526.6L472.27 529.8M466.73 529.8L472.27 526.6" stroke="#222" stroke-width="1.35" fill="none"/>
<line x1="492" y1="527.6" x2="506.7" y2="527.6" stroke="#222" stroke-width="1.6"/>
<text x="499.1" y="526.2" font-size="10.4" text-anchor="middle" font-weight="bold" fill="#1c1c1c" stroke="#1c1c1c" stroke-width="0.22">ns</text>
<line x1="492" y1="515.4" x2="523.6" y2="515.4" stroke="#222" stroke-width="1.6"/>
<text x="509.7" y="513.9" font-size="10.4" text-anchor="middle" font-weight="bold" fill="#1c1c1c" stroke="#1c1c1c" stroke-width="0.22">ns</text>
<text x="25.6" y="241.9" font-size="15.5" text-anchor="start" font-weight="bold" fill="#1c1c1c" stroke="#1c1c1c" stroke-width="0.22">d</text>
<text x="111.3" y="241" font-size="10.8" text-anchor="middle" font-weight="bold" fill="#1c1c1c" stroke="#1c1c1c" stroke-width="0.22">DEC-205<tspan font-size="7" dy="-3.5">+</tspan><tspan dy="3.5">CD11c</tspan><tspan font-size="7" dy="-3.5">+</tspan></text>
<text x="255.1" y="240.9" font-size="10.8" text-anchor="middle" font-weight="bold" fill="#1c1c1c" stroke="#1c1c1c" stroke-width="0.22">DCIR2<tspan font-size="7" dy="-3.5">+</tspan><tspan dy="3.5">CD11c</tspan><tspan font-size="7" dy="-3.5">+</tspan></text>
<line x1="41.2" y1="245.3" x2="178" y2="245.3" stroke="#333" stroke-width="1.4"/>
<line x1="188.2" y1="245.3" x2="325.3" y2="245.3" stroke="#333" stroke-width="1.4"/>
<rect x="41" y="249.7" width="67.3" height="47.6" fill="#fff" stroke="#ababab" stroke-width="0.9"/>
<rect x="41" y="297.9" width="67.3" height="47.5" fill="#fff" stroke="#ababab" stroke-width="0.9"/>
<rect x="41" y="346" width="67.3" height="47.4" fill="#fff" stroke="#ababab" stroke-width="0.9"/>
<rect x="41" y="394" width="67.3" height="47.4" fill="#fff" stroke="#ababab" stroke-width="0.9"/>
<rect x="112.2" y="249.7" width="68" height="47.6" fill="#fff" stroke="#ababab" stroke-width="0.9"/>
<rect x="112.2" y="297.9" width="68" height="47.5" fill="#fff" stroke="#ababab" stroke-width="0.9"/>
<rect x="112.2" y="346" width="68" height="47.4" fill="#fff" stroke="#ababab" stroke-width="0.9"/>
<rect x="112.2" y="394" width="68" height="47.4" fill="#fff" stroke="#ababab" stroke-width="0.9"/>
<rect x="186.5" y="249.7" width="67.8" height="47.6" fill="#fff" stroke="#ababab" stroke-width="0.9"/>
<rect x="186.5" y="297.9" width="67.8" height="47.5" fill="#fff" stroke="#ababab" stroke-width="0.9"/>
<rect x="186.5" y="346" width="67.8" height="47.4" fill="#fff" stroke="#ababab" stroke-width="0.9"/>
<rect x="186.5" y="394" width="67.8" height="47.4" fill="#fff" stroke="#ababab" stroke-width="0.9"/>
<rect x="258.4" y="249.7" width="67.6" height="47.6" fill="#fff" stroke="#ababab" stroke-width="0.9"/>
<rect x="258.4" y="297.9" width="67.6" height="47.5" fill="#fff" stroke="#ababab" stroke-width="0.9"/>
<rect x="258.4" y="346" width="67.6" height="47.4" fill="#fff" stroke="#ababab" stroke-width="0.9"/>
<rect x="258.4" y="394" width="67.6" height="47.4" fill="#fff" stroke="#ababab" stroke-width="0.9"/>
<path d="M44.6 297.3 L44.6 297.3 L45.38 295.57 L46.15 293.93 L46.93 292.68 L47.7 290.9 L48.53 285.4 L49.37 282.16 L50.2 276.6 L51 273.54 L51.8 271.5 L52.8 266.4 L53.55 263.53 L54.3 262.8 L55.05 264.47 L55.8 266.4 L56.5 265.5 L57.2 265 L57.9 265.9 L58.9 257.2 L59.65 257.21 L60.4 258.2 L61.2 255.56 L62 253.1 L62.75 255.47 L63.5 259.2 L64.25 262.53 L65 264.3 L66.05 268.46 L67.1 273.5 L67.93 276.34 L68.77 277.97 L69.6 280.7 L70.38 281.87 L71.15 284.66 L71.92 287.21 L72.7 288.9 L73.47 290.16 L74.25 291.6 L75.03 292.41 L75.8 294 L76.62 294.32 L77.44 294.84 L78.26 295.5 L79.08 296.09 L79.9 296.5 L80.65 296.69 L81.4 296.92 L82.15 297.09 L82.9 297.3 L82.9 297.3Z" fill="#a8a8a8" stroke="#5a5a5a" stroke-width="0.7" stroke-linejoin="round"/>
<path d="M43.1 297.3 L43.93 294.55 L44.77 291.56 L45.6 288.9 L46.3 281.07 L47 274.93 L47.7 268.4 L48.45 261.9 L49.2 254.1 L50.2 253.6 L51.2 259.2 L52.3 268.4 L53.05 274.9 L53.8 281.7 L54.55 286.94 L55.3 291.9 L56 293.04 L56.7 294.6 L57.4 296 L58.15 296.3 L58.9 296.61 L59.65 296.96 L60.4 297.3" fill="none" stroke="#222" stroke-width="0.75" stroke-linejoin="round"/>
<line x1="41" y1="297.3" x2="108.3" y2="297.3" stroke="#7a7a7a" stroke-width="1"/>
<path d="M39.4 252.7L41 252.7M39.4 257.16L41 257.16M39.4 261.62L41 261.62M39.4 266.08L41 266.08M39.4 270.54L41 270.54M39.4 275L41 275M39.4 279.46L41 279.46M39.4 283.92L41 283.92M39.4 288.38L41 288.38M39.4 292.84L41 292.84M39.4 297.3L41 297.3" stroke="#9a9a9a" stroke-width="0.6"/>
<path d="M44.1 345.4 L44.1 345.3 L44.93 343.46 L45.77 341.82 L46.6 339.9 L47.47 336.55 L48.33 332.23 L49.2 328.7 L49.95 324.37 L50.7 321.5 L51.5 316.89 L52.3 314.4 L53.05 312.14 L53.8 310.8 L54.55 311.59 L55.3 314.4 L56 313.43 L56.7 314.16 L57.4 313.9 L58.15 309.52 L58.9 305.2 L59.65 304.42 L60.4 302.1 L61.2 301.02 L62 301.6 L62.75 304.02 L63.5 308.3 L64.25 311.54 L65 316.4 L65.8 318.76 L66.6 321.5 L67.6 323.81 L68.6 327.7 L69.3 330.34 L70 331.95 L70.7 333.8 L71.45 336.25 L72.2 336.51 L72.95 338.96 L73.7 339.9 L74.47 340.79 L75.25 342.13 L76.03 343.13 L76.8 344 L77.8 344.62 L78.8 345.3 L78.8 345.4Z" fill="#a8a8a8" stroke="#5a5a5a" stroke-width="0.7" stroke-linejoin="round"/>
<path d="M44.1 345.3 L44.82 344.65 L45.54 343.91 L46.26 343.24 L46.98 342.56 L47.7 342 L48.53 340.7 L49.37 339.64 L50.2 337.9 L50.98 337.16 L51.75 336.79 L52.52 335.27 L53.3 334.8 L54.3 333.65 L55.3 332.8 L56 332.58 L56.7 332.1 L57.4 330.7 L58.4 327.47 L59.4 325.6 L60.1 323.5 L60.8 321.48 L61.5 320.5 L62.5 317.38 L63.5 315.4 L64.5 314.13 L65.5 312.3 L66.55 310.12 L67.6 309.3 L68.6 307.66 L69.6 305.2 L70.4 304.06 L71.2 301.6 L71.95 303.32 L72.7 303.2 L73.45 306.57 L74.2 309.3 L75 314.03 L75.8 318.5 L76.55 323.72 L77.3 329.7 L78.05 334.64 L78.8 338.9 L79.5 340.16 L80.2 341.5 L80.9 343 L81.65 343.57 L82.4 344.07 L83.15 344.67 L83.9 345.3" fill="none" stroke="#111" stroke-width="1.3" stroke-linejoin="round"/>
<line x1="41" y1="345.4" x2="108.3" y2="345.4" stroke="#7a7a7a" stroke-width="1"/>
<path d="M39.4 300.9L41 300.9M39.4 305.35L41 305.35M39.4 309.8L41 309.8M39.4 314.25L41 314.25M39.4 318.7L41 318.7M39.4 323.15L41 323.15M39.4 327.6L41 327.6M39.4 332.05L41 332.05M39.4 336.5L41 336.5M39.4 340.95L41 340.95M39.4 345.4L41 345.4" stroke="#9a9a9a" stroke-width="0.6"/>
<path d="M44.1 393.4 L44.1 393.3 L44.93 391.59 L45.77 389.52 L46.6 387.9 L47.3 385.17 L48 382.75 L48.7 380.8 L49.45 375.98 L50.2 371.6 L51 369.03 L51.8 366.5 L52.55 363.36 L53.3 359.3 L54.3 358.3 L55.3 362.4 L56.1 362.82 L56.9 364.4 L57.65 361.72 L58.4 357.3 L59.15 355.52 L59.9 354.2 L60.7 351.4 L61.5 349.1 L62.5 354.2 L63.25 353.03 L64 353.2 L65 360.4 L65.8 363.14 L66.6 365.5 L67.35 369.91 L68.1 373.6 L69.1 375.5 L70.1 378.7 L70.8 380.52 L71.5 381.49 L72.2 382.8 L73.2 385.06 L74.2 387.9 L74.97 388.65 L75.75 389.42 L76.53 390.74 L77.3 391.5 L78.02 392 L78.74 392.27 L79.46 392.54 L80.18 392.93 L80.9 393.3 L80.9 393.4Z" fill="#a8a8a8" stroke="#5a5a5a" stroke-width="0.7" stroke-linejoin="round"/>
<path d="M44.1 393.3 L44.93 391.48 L45.77 389.78 L46.6 387.9 L47.3 385.45 L48 382.86 L48.7 380.8 L49.6 377.24 L50.5 374 L51.4 371.18 L52.3 370 L53.3 368.77 L54.3 367.5 L55.15 367.57 L56 366.5 L56.75 363.96 L57.5 362 L58.4 357.3 L59.15 356 L59.9 354.2 L60.7 351.77 L61.5 349.1 L62.5 354.2 L63.25 353.66 L64 353.2 L65 360.4 L65.8 362.29 L66.6 365.5 L67.35 369.51 L68.1 373.6 L69.1 376.14 L70.1 378.7 L70.8 379.11 L71.5 382.15 L72.2 382.8 L73.2 385.67 L74.2 387.9 L74.97 388.9 L75.75 389.55 L76.53 390.66 L77.3 391.5 L78.02 391.95 L78.74 392.21 L79.46 392.63 L80.18 392.97 L80.9 393.3" fill="none" stroke="#111" stroke-width="1.3" stroke-linejoin="round"/>
<line x1="41" y1="393.4" x2="108.3" y2="393.4" stroke="#7a7a7a" stroke-width="1"/>
<path d="M39.4 349L41 349M39.4 353.44L41 353.44M39.4 357.88L41 357.88M39.4 362.32L41 362.32M39.4 366.76L41 366.76M39.4 371.2L41 371.2M39.4 375.64L41 375.64M39.4 380.08L41 380.08M39.4 384.52L41 384.52M39.4 388.96L41 388.96M39.4 393.4L41 393.4" stroke="#9a9a9a" stroke-width="0.6"/>
<path d="M43.1 441.4 L43.1 441.3 L43.85 440.27 L44.6 439.07 L45.35 438.34 L46.1 437 L46.8 434.77 L47.5 431.6 L48.2 428.8 L49.2 424.55 L50.2 419.6 L51.25 417.13 L52.3 413.5 L53.05 410.87 L53.8 408.3 L54.55 408.7 L55.3 407.3 L56.1 406.62 L56.9 404.3 L57.65 404.07 L58.4 402.2 L59.15 401.47 L59.9 400.2 L60.7 399.23 L61.5 397.1 L62.5 400.72 L63.5 402.2 L64.25 403.65 L65 407.3 L65.8 413.36 L66.6 418.6 L67.35 420.32 L68.1 420.6 L68.85 421.6 L69.6 424.7 L70.3 427.33 L71 428.35 L71.7 430.8 L72.53 433.21 L73.37 433.78 L74.2 436 L75.07 437.32 L75.93 438.7 L76.8 440 L77.8 440.66 L78.8 441.3 L78.8 441.4Z" fill="#a8a8a8" stroke="#5a5a5a" stroke-width="0.7" stroke-linejoin="round"/>
<path d="M43.1 441.3 L43.85 440.31 L44.6 439.19 L45.35 438.32 L46.1 437 L46.8 434.15 L47.5 430.74 L48.2 428.8 L49.2 424.43 L50.2 419.6 L51.25 416.22 L52.3 413.5 L53.05 411.67 L53.8 408.3 L54.55 408.07 L55.3 407.3 L56.1 406.45 L56.9 404.3 L57.65 402.49 L58.4 402.2 L59.15 400.37 L59.9 400.2 L60.7 399.27 L61.5 397.1 L62.25 397.09 L63 398.1 L63.75 400.36 L64.5 401.2 L65.3 401.8 L66.1 404.3 L66.85 407 L67.6 409.4 L68.35 412.06 L69.1 416.5 L69.9 418.17 L70.7 421.6 L71.7 425.53 L72.7 427.8 L73.57 429.66 L74.43 430.97 L75.3 431.9 L76.13 432.51 L76.97 433.99 L77.8 434.9 L78.67 436.42 L79.53 437.31 L80.4 438.5 L81.23 439.41 L82.07 440.13 L82.9 440.8" fill="none" stroke="#111" stroke-width="1.3" stroke-linejoin="round"/>
<line x1="41" y1="441.4" x2="108.3" y2="441.4" stroke="#7a7a7a" stroke-width="1"/>
<path d="M43 441.4L43 442.8M49.33 441.4L49.33 442.8M55.66 441.4L55.66 442.8M61.99 441.4L61.99 442.8M68.32 441.4L68.32 442.8M74.65 441.4L74.65 442.8M80.98 441.4L80.98 442.8M87.31 441.4L87.31 442.8M93.64 441.4L93.64 442.8M99.97 441.4L99.97 442.8M106.3 441.4L106.3 442.8" stroke="#8a8a8a" stroke-width="0.7"/>
<path d="M39.4 397L41 397M39.4 401.44L41 401.44M39.4 405.88L41 405.88M39.4 410.32L41 410.32M39.4 414.76L41 414.76M39.4 419.2L41 419.2M39.4 423.64L41 423.64M39.4 428.08L41 428.08M39.4 432.52L41 432.52M39.4 436.96L41 436.96M39.4 441.4L41 441.4" stroke="#9a9a9a" stroke-width="0.6"/>
<path d="M119.2 297.3 L119.2 297.3 L119.95 296.41 L120.7 295.6 L121.45 294.6 L122.2 294 L122.97 292.54 L123.75 291.72 L124.53 290.43 L125.3 288.9 L126.05 289.36 L126.8 289.9 L127.6 286.33 L128.4 281.7 L129.4 278.54 L130.4 275.6 L131.45 273.85 L132.5 270.5 L133.5 266.39 L134.5 261.8 L135.25 261.76 L136 263.3 L136.8 259.9 L137.6 256.2 L138.6 254.35 L139.6 252.6 L140.65 253.43 L141.7 254.1 L142.45 255.52 L143.2 258.2 L144.2 263.23 L145.2 267.4 L145.9 269.78 L146.6 273.09 L147.3 276.6 L148.13 279.09 L148.97 282.22 L149.8 285.8 L150.58 286.74 L151.35 289.24 L152.12 290.59 L152.9 291.9 L153.68 292.55 L154.45 294 L155.22 294.8 L156 296 L156.75 296.35 L157.5 296.64 L158.25 296.98 L159 297.3 L159 297.3Z" fill="#a8a8a8" stroke="#5a5a5a" stroke-width="0.7" stroke-linejoin="round"/>
<path d="M115.1 297.3 L115.93 295.13 L116.77 293.25 L117.6 290.9 L118.4 282.19 L119.2 273.5 L119.95 265.77 L120.7 258.2 L121.45 254.62 L122.2 252.1 L123 255.49 L123.8 258.2 L124.55 265.36 L125.3 273.5 L126 279.58 L126.7 283.25 L127.4 288.9 L128.4 292.36 L129.4 295 L130.4 296.07 L131.4 297.3" fill="none" stroke="#222" stroke-width="0.75" stroke-linejoin="round"/>
<line x1="112.2" y1="297.3" x2="180.2" y2="297.3" stroke="#7a7a7a" stroke-width="1"/>
<path d="M110.6 252.7L112.2 252.7M110.6 257.16L112.2 257.16M110.6 261.62L112.2 261.62M110.6 266.08L112.2 266.08M110.6 270.54L112.2 270.54M110.6 275L112.2 275M110.6 279.46L112.2 279.46M110.6 283.92L112.2 283.92M110.6 288.38L112.2 288.38M110.6 292.84L112.2 292.84M110.6 297.3L112.2 297.3" stroke="#9a9a9a" stroke-width="0.6"/>
<path d="M118.2 345.4 L118.2 345.3 L118.95 344.73 L119.7 344.21 L120.45 343.41 L121.2 343 L122.07 341.9 L122.93 340.39 L123.8 338.9 L124.8 338.11 L125.8 336.9 L126.5 334.88 L127.2 331.09 L127.9 328.7 L128.9 327.31 L129.9 324.6 L130.65 322.44 L131.4 319.5 L132.45 316.64 L133.5 315.4 L134.5 309.8 L135.5 311.51 L136.5 312.3 L137.3 308.96 L138.1 305.2 L139.1 303.85 L140.1 301.1 L140.9 302.58 L141.7 302.6 L142.45 305.25 L143.2 307.2 L144.2 312.04 L145.2 316.4 L145.9 320.08 L146.6 321.16 L147.3 324.6 L148.13 326.6 L148.97 330.41 L149.8 332.8 L150.67 335.17 L151.53 337.59 L152.4 338.9 L153.23 340.47 L154.07 341.66 L154.9 343 L155.68 343.71 L156.45 344.06 L157.22 344.69 L158 345.3 L158 345.4Z" fill="#a8a8a8" stroke="#5a5a5a" stroke-width="0.7" stroke-linejoin="round"/>
<path d="M118.2 345.3 L118.93 345.13 L119.66 344.91 L120.39 344.7 L121.11 344.55 L121.84 344.45 L122.57 344.12 L123.3 344 L124.05 343.52 L124.8 343.01 L125.55 342.37 L126.3 342 L127.17 340.83 L128.03 339.76 L128.9 338.9 L129.73 338.2 L130.57 337.07 L131.4 335.9 L132.45 334.77 L133.5 332.8 L134.33 331.83 L135.17 329.64 L136 328.7 L137.05 326.85 L138.1 323.6 L139.1 321.7 L140.1 319.5 L141.15 317.17 L142.2 314.4 L143.2 307.2 L143.95 307.77 L144.7 309.3 L145.5 311.47 L146.3 314.4 L147.05 312.68 L147.8 309.3 L148.8 307.8 L149.8 305.2 L150.85 303.98 L151.9 301.1 L152.9 305.2 L153.9 314.4 L154.9 324.6 L155.7 329.77 L156.5 335.9 L157.25 338.54 L158 342 L158.78 343.01 L159.55 343.79 L160.32 344.52 L161.1 345.3" fill="none" stroke="#111" stroke-width="1.3" stroke-linejoin="round"/>
<line x1="112.2" y1="345.4" x2="180.2" y2="345.4" stroke="#7a7a7a" stroke-width="1"/>
<path d="M110.6 300.9L112.2 300.9M110.6 305.35L112.2 305.35M110.6 309.8L112.2 309.8M110.6 314.25L112.2 314.25M110.6 318.7L112.2 318.7M110.6 323.15L112.2 323.15M110.6 327.6L112.2 327.6M110.6 332.05L112.2 332.05M110.6 336.5L112.2 336.5M110.6 340.95L112.2 340.95M110.6 345.4L112.2 345.4" stroke="#9a9a9a" stroke-width="0.6"/>
<path d="M117.1 393.4 L117.1 393.3 L117.92 392.71 L118.74 392.09 L119.56 391.55 L120.38 391.2 L121.2 390.5 L121.97 389.15 L122.75 388.45 L123.53 386.88 L124.3 385.9 L125.03 384.52 L125.77 383.68 L126.5 382 L127.5 378.54 L128.5 377 L129.3 375.29 L130.1 372.28 L130.9 369.5 L131.85 367.72 L132.8 367 L133.65 361.95 L134.5 358.3 L135.5 358.29 L136.5 358.3 L137.3 355.93 L138.1 352.2 L139.1 351.33 L140.1 348.6 L140.95 348.44 L141.8 350.1 L142.75 352.87 L143.7 356.3 L144.45 360.81 L145.2 363.4 L145.9 365.63 L146.6 369.43 L147.3 371.6 L148.3 375.95 L149.3 379.8 L150.35 383.23 L151.4 385.9 L152.23 387.61 L153.07 388.65 L153.9 390.5 L154.68 391.4 L155.45 391.98 L156.22 392.65 L157 393.3 L157 393.4Z" fill="#a8a8a8" stroke="#5a5a5a" stroke-width="0.7" stroke-linejoin="round"/>
<path d="M117.1 393.3 L117.92 392.72 L118.74 392.1 L119.56 391.64 L120.38 391.04 L121.2 390.5 L121.97 389.89 L122.75 389.08 L123.53 388.21 L124.3 386.9 L125.13 385.47 L125.97 384.58 L126.8 382.8 L127.5 381.43 L128.2 379.24 L128.9 377.7 L129.9 374.6 L130.9 372.6 L131.95 370.58 L133 367.5 L134 366.26 L135 363.4 L136.05 362.28 L137.1 359.3 L138.1 358.09 L139.1 355.2 L140.1 353.49 L141.1 350.1 L141.9 348.41 L142.7 348.6 L143.45 349.51 L144.2 350.1 L144.95 352.58 L145.7 353.2 L146.5 356.78 L147.3 360.4 L148.05 364.89 L148.8 367.5 L149.55 370.54 L150.3 374.7 L151.1 379.16 L151.9 381.8 L152.9 385.16 L153.9 387.9 L154.77 389.61 L155.63 390.77 L156.5 392 L157.25 392.3 L158 392.62 L158.75 392.99 L159.5 393.3" fill="none" stroke="#111" stroke-width="1.3" stroke-linejoin="round"/>
<line x1="112.2" y1="393.4" x2="180.2" y2="393.4" stroke="#7a7a7a" stroke-width="1"/>
<path d="M110.6 349L112.2 349M110.6 353.44L112.2 353.44M110.6 357.88L112.2 357.88M110.6 362.32L112.2 362.32M110.6 366.76L112.2 366.76M110.6 371.2L112.2 371.2M110.6 375.64L112.2 375.64M110.6 380.08L112.2 380.08M110.6 384.52L112.2 384.52M110.6 388.96L112.2 388.96M110.6 393.4L112.2 393.4" stroke="#9a9a9a" stroke-width="0.6"/>
<path d="M118.2 441.4 L118.2 441.3 L118.95 440.54 L119.7 439.8 L120.45 438.98 L121.2 438 L121.97 437.5 L122.75 436.9 L123.53 435.94 L124.3 434.9 L125.3 434.48 L126.3 432.9 L127 429.96 L127.7 428.71 L128.4 425.7 L129.4 423.8 L130.4 421.6 L131.45 417.63 L132.5 414.5 L133.25 411.31 L134 408.3 L134.75 406.42 L135.5 405.3 L136.55 404.23 L137.6 401.2 L138.6 400.23 L139.6 398.1 L140.35 397.15 L141.1 397.1 L141.97 397.91 L142.83 397.2 L143.7 398.5 L144.45 402.56 L145.2 408.3 L146 413.7 L146.8 417.5 L147.55 421.91 L148.3 424.7 L149.05 427.41 L149.8 430.8 L150.85 432.5 L151.9 434.9 L152.9 436.32 L153.9 438 L154.77 438.9 L155.63 440.27 L156.5 441.3 L156.5 441.4Z" fill="#a8a8a8" stroke="#5a5a5a" stroke-width="0.7" stroke-linejoin="round"/>
<path d="M118.2 441.3 L118.95 440.53 L119.7 439.6 L120.45 438.68 L121.2 438 L121.97 437.48 L122.75 436.56 L123.53 435.82 L124.3 434.9 L125.3 433.86 L126.3 432.9 L127 431.34 L127.7 428.43 L128.4 425.7 L129.4 423.82 L130.4 421.6 L131.45 418.78 L132.5 414.5 L133.25 411.89 L134 408.3 L134.75 407.53 L135.5 405.3 L136.55 403.89 L137.6 401.2 L138.6 400.18 L139.6 398.1 L140.35 398.02 L141.1 397.1 L141.97 397.32 L142.83 396.18 L143.7 397.1 L144.45 399.24 L145.2 401.2 L146 406.6 L146.8 410.4 L147.8 414.4 L148.8 417.5 L149.55 421.64 L150.3 424.7 L151.1 428.9 L151.9 431.9 L152.73 432.96 L153.57 434.3 L154.4 434.9 L155.45 436.23 L156.5 438 L157.33 438.96 L158.17 440.25 L159 441.3" fill="none" stroke="#111" stroke-width="1.3" stroke-linejoin="round"/>
<line x1="112.2" y1="441.4" x2="180.2" y2="441.4" stroke="#7a7a7a" stroke-width="1"/>
<path d="M114.2 441.4L114.2 442.8M120.6 441.4L120.6 442.8M127 441.4L127 442.8M133.4 441.4L133.4 442.8M139.8 441.4L139.8 442.8M146.2 441.4L146.2 442.8M152.6 441.4L152.6 442.8M159 441.4L159 442.8M165.4 441.4L165.4 442.8M171.8 441.4L171.8 442.8M178.2 441.4L178.2 442.8" stroke="#8a8a8a" stroke-width="0.7"/>
<path d="M110.6 397L112.2 397M110.6 401.44L112.2 401.44M110.6 405.88L112.2 405.88M110.6 410.32L112.2 410.32M110.6 414.76L112.2 414.76M110.6 419.2L112.2 419.2M110.6 423.64L112.2 423.64M110.6 428.08L112.2 428.08M110.6 432.52L112.2 432.52M110.6 436.96L112.2 436.96M110.6 441.4L112.2 441.4" stroke="#9a9a9a" stroke-width="0.6"/>
<path d="M188.1 297.3 L188.1 297.3 L188.85 296.51 L189.6 295.69 L190.35 294.78 L191.1 294 L191.88 291.13 L192.65 289.17 L193.42 287.29 L194.2 283.8 L195.07 280.91 L195.93 279.11 L196.8 275.6 L197.55 270.98 L198.3 268.4 L199.3 262.3 L200.3 265.4 L201.35 264.91 L202.4 264.3 L203.15 260.59 L203.9 258.2 L204.9 261.3 L205.7 256.94 L206.5 252.6 L207.25 256.69 L208 260.3 L208.75 257.48 L209.5 253.1 L210.3 258.25 L211.1 263.3 L212.1 265.16 L213.1 265.4 L214.1 267.57 L215.1 270.5 L216.15 273.23 L217.2 277.6 L218.2 282.12 L219.2 286.8 L220.07 288.53 L220.93 289.83 L221.8 290.9 L222.58 291.33 L223.35 292.49 L224.12 293.43 L224.9 294.5 L225.7 294.83 L226.5 295.32 L227.3 295.45 L228.1 295.74 L228.9 296.2 L229.64 296.36 L230.39 296.43 L231.13 296.5 L231.87 296.48 L232.61 296.6 L233.36 296.68 L234.1 296.8 L234.9 296.93 L235.7 296.98 L236.5 297.09 L237.3 297.19 L238.1 297.3 L238.1 297.3Z" fill="#a8a8a8" stroke="#5a5a5a" stroke-width="0.7" stroke-linejoin="round"/>
<path d="M189.1 297.3 L190.1 294.35 L191.1 290.9 L191.9 284.88 L192.7 278.7 L193.7 261.3 L194.45 259.36 L195.2 257.2 L196.2 252.1 L197.3 260.3 L198.05 265.85 L198.8 271.5 L199.55 276.48 L200.3 282.7 L201.1 286.53 L201.9 291.9 L202.9 293.89 L203.9 296 L204.62 296.26 L205.34 296.56 L206.06 296.77 L206.78 297.06 L207.5 297.3" fill="none" stroke="#222" stroke-width="0.75" stroke-linejoin="round"/>
<line x1="186.5" y1="297.3" x2="254.3" y2="297.3" stroke="#7a7a7a" stroke-width="1"/>
<path d="M184.9 252.7L186.5 252.7M184.9 257.16L186.5 257.16M184.9 261.62L186.5 261.62M184.9 266.08L186.5 266.08M184.9 270.54L186.5 270.54M184.9 275L186.5 275M184.9 279.46L186.5 279.46M184.9 283.92L186.5 283.92M184.9 288.38L186.5 288.38M184.9 292.84L186.5 292.84M184.9 297.3L186.5 297.3" stroke="#9a9a9a" stroke-width="0.6"/>
<path d="M189.6 345.4 L189.6 345.3 L190.47 343.84 L191.33 342.7 L192.2 341 L193.03 338.54 L193.87 334.74 L194.7 332.8 L195.4 329.86 L196.1 325.91 L196.8 323.6 L197.55 319 L198.3 316.4 L199.3 310.3 L200.05 312.56 L200.8 313.4 L201.85 313.42 L202.9 311.3 L203.65 307.8 L204.4 304.2 L205.4 309.3 L206.7 300.1 L208 311.3 L208.75 306.51 L209.5 301.1 L210.3 305.4 L211.1 311.3 L212.1 311.95 L213.1 314.4 L214.1 317.48 L215.1 321.5 L216.15 322.6 L217.2 325.6 L217.95 329.3 L218.7 331.8 L219.5 333.66 L220.3 336.9 L221.13 338.22 L221.97 339.16 L222.8 341 L223.58 341.55 L224.35 342.42 L225.12 343.25 L225.9 344 L226.72 344.22 L227.54 344.53 L228.36 344.79 L229.18 345.02 L230 345.3 L230 345.4Z" fill="#a8a8a8" stroke="#5a5a5a" stroke-width="0.7" stroke-linejoin="round"/>
<path d="M191.1 345.3 L191.92 344.95 L192.74 344.6 L193.56 344.13 L194.38 343.77 L195.2 343.5 L196.02 343.28 L196.84 342.56 L197.66 342.4 L198.48 341.87 L199.3 341.5 L200.02 341.62 L200.74 341.24 L201.46 340.77 L202.18 340.43 L202.9 340.5 L203.73 339.46 L204.57 339.16 L205.4 337.9 L206.27 338.06 L207.13 337.27 L208 336.4 L209 333.99 L210 332.8 L210.8 331.19 L211.6 328.7 L212.35 327.21 L213.1 326.7 L214.1 321.5 L215.1 316.4 L215.9 313.95 L216.7 310.3 L217.9 302.1 L218.7 301.1 L219.5 305.25 L220.3 310.3 L221.05 315.31 L221.8 321.5 L222.55 326.01 L223.3 331.8 L224.35 337.02 L225.4 341 L226.23 341.85 L227.07 342.85 L227.9 344 L228.66 344.07 L229.43 344.26 L230.19 344.44 L230.95 344.56 L231.71 344.76 L232.47 344.94 L233.24 345.07 L234 345.2" fill="none" stroke="#111" stroke-width="1.3" stroke-linejoin="round"/>
<line x1="186.5" y1="345.4" x2="254.3" y2="345.4" stroke="#7a7a7a" stroke-width="1"/>
<path d="M184.9 300.9L186.5 300.9M184.9 305.35L186.5 305.35M184.9 309.8L186.5 309.8M184.9 314.25L186.5 314.25M184.9 318.7L186.5 318.7M184.9 323.15L186.5 323.15M184.9 327.6L186.5 327.6M184.9 332.05L186.5 332.05M184.9 336.5L186.5 336.5M184.9 340.95L186.5 340.95M184.9 345.4L186.5 345.4" stroke="#9a9a9a" stroke-width="0.6"/>
<path d="M189.1 393.4 L189.1 393.3 L189.88 392.02 L190.65 390.46 L191.42 389.1 L192.2 387.9 L193.03 383.73 L193.87 380.49 L194.7 377.7 L195.45 374.68 L196.2 370.6 L197 367.37 L197.8 364.4 L198.55 360.42 L199.3 358.3 L200.05 358.79 L200.8 361.4 L201.85 360.81 L202.9 358.3 L203.65 354.31 L204.4 352.2 L205.4 356.3 L206.7 348.1 L208 357.3 L208.75 353.68 L209.5 350.1 L210.3 352.68 L211.1 355.2 L212.4 348.1 L213.6 356.3 L214.35 358.06 L215.1 360.4 L216.2 369.5 L216.95 373.05 L217.7 377.7 L218.7 380.94 L219.7 384.9 L220.4 385.82 L221.1 386.83 L221.8 387.9 L222.63 389.11 L223.47 389.91 L224.3 390.5 L225.02 390.7 L225.74 391.21 L226.46 391.55 L227.18 392.1 L227.9 392.5 L228.66 392.62 L229.43 392.7 L230.19 392.75 L230.95 392.88 L231.71 392.98 L232.47 393.11 L233.24 393.21 L234 393.3 L234 393.4Z" fill="#a8a8a8" stroke="#5a5a5a" stroke-width="0.7" stroke-linejoin="round"/>
<path d="M190 393.3 L190.8 392.3 L191.6 391.27 L192.4 390.03 L193.2 389 L194.2 385.36 L195.2 382.8 L195.9 380.33 L196.6 379.72 L197.3 376.7 L198.3 376.01 L199.3 376.7 L200.05 372.47 L200.8 369.5 L201.9 376.7 L202.9 367.5 L203.65 366.59 L204.4 365.5 L205.45 364.57 L206.5 362.4 L207.5 360.3 L208.5 359.3 L209.25 357.26 L210 356.3 L210.8 354.16 L211.6 353.2 L212.35 354.37 L213.1 354.2 L213.85 354.42 L214.6 355.2 L215.7 364.4 L216.45 369.2 L217.2 372.6 L217.95 376.14 L218.7 379.8 L219.5 383.09 L220.3 385.9 L221.13 387.34 L221.97 388.32 L222.8 389 L223.58 389.6 L224.35 390.41 L225.12 390.79 L225.9 391.5 L226.72 391.83 L227.54 392.09 L228.36 392.34 L229.18 392.58 L230 392.8" fill="none" stroke="#111" stroke-width="1.3" stroke-linejoin="round"/>
<line x1="186.5" y1="393.4" x2="254.3" y2="393.4" stroke="#7a7a7a" stroke-width="1"/>
<path d="M184.9 349L186.5 349M184.9 353.44L186.5 353.44M184.9 357.88L186.5 357.88M184.9 362.32L186.5 362.32M184.9 366.76L186.5 366.76M184.9 371.2L186.5 371.2M184.9 375.64L186.5 375.64M184.9 380.08L186.5 380.08M184.9 384.52L186.5 384.52M184.9 388.96L186.5 388.96M184.9 393.4L186.5 393.4" stroke="#9a9a9a" stroke-width="0.6"/>
<path d="M189.6 441.4 L189.6 441.3 L190.47 439.81 L191.33 438.29 L192.2 437 L193.2 432.78 L194.2 429.8 L194.95 425.48 L195.7 419.6 L196.4 417.06 L197.1 415.05 L197.8 413.5 L198.55 411.12 L199.3 406.8 L200.05 408.92 L200.8 411.4 L201.85 409.85 L202.9 408.3 L203.65 403.42 L204.4 400.2 L205.4 406.3 L206.2 401.19 L207 397.1 L208.3 406.3 L209.7 396.6 L210.4 399.6 L211.1 403.2 L211.85 404.31 L212.6 407.3 L213.35 407.21 L214.1 408.3 L214.9 411.78 L215.7 415.5 L216.7 420.27 L217.7 423.7 L218.45 427.09 L219.2 429.8 L219.9 430.91 L220.6 433.38 L221.3 434.9 L222.13 436.42 L222.97 437.12 L223.8 438 L224.62 438.55 L225.44 438.81 L226.26 439.35 L227.08 439.92 L227.9 440.5 L228.72 440.66 L229.54 440.8 L230.36 441.02 L231.18 441.12 L232 441.3 L232 441.4Z" fill="#a8a8a8" stroke="#5a5a5a" stroke-width="0.7" stroke-linejoin="round"/>
<path d="M190 441.3 L190.9 439.8 L191.8 438.45 L192.7 437 L193.53 435.38 L194.37 433.86 L195.2 431.9 L196 427.09 L196.8 422.7 L197.55 420.15 L198.3 419.6 L199.3 418.98 L200.3 417.5 L201.35 415.98 L202.4 415.5 L203.15 414.17 L203.9 412.4 L204.65 410.26 L205.4 409.4 L206.2 407.25 L207 406.3 L207.75 404.81 L208.5 402.2 L209.25 400.88 L210 398.1 L210.8 400.71 L211.6 403.2 L212.6 402.46 L213.6 402.2 L214.6 408.3 L215.7 414.5 L216.45 418.49 L217.2 421.6 L217.95 424.61 L218.7 425.7 L219.5 429.24 L220.3 430.8 L221.13 431.58 L221.97 432 L222.8 432.9 L223.67 434.43 L224.53 435.06 L225.4 435.9 L226.23 436.63 L227.07 437.97 L227.9 439 L228.72 439.48 L229.54 439.83 L230.36 440.41 L231.18 440.81 L232 441.3" fill="none" stroke="#111" stroke-width="1.3" stroke-linejoin="round"/>
<line x1="186.5" y1="441.4" x2="254.3" y2="441.4" stroke="#7a7a7a" stroke-width="1"/>
<path d="M188.5 441.4L188.5 442.8M194.88 441.4L194.88 442.8M201.26 441.4L201.26 442.8M207.64 441.4L207.64 442.8M214.02 441.4L214.02 442.8M220.4 441.4L220.4 442.8M226.78 441.4L226.78 442.8M233.16 441.4L233.16 442.8M239.54 441.4L239.54 442.8M245.92 441.4L245.92 442.8M252.3 441.4L252.3 442.8" stroke="#8a8a8a" stroke-width="0.7"/>
<path d="M184.9 397L186.5 397M184.9 401.44L186.5 401.44M184.9 405.88L186.5 405.88M184.9 410.32L186.5 410.32M184.9 414.76L186.5 414.76M184.9 419.2L186.5 419.2M184.9 423.64L186.5 423.64M184.9 428.08L186.5 428.08M184.9 432.52L186.5 432.52M184.9 436.96L186.5 436.96M184.9 441.4L186.5 441.4" stroke="#9a9a9a" stroke-width="0.6"/>
<path d="M263.1 297.3 L263.1 297.3 L263.88 296.41 L264.65 295.75 L265.43 294.87 L266.2 294 L266.98 292.48 L267.75 291.75 L268.52 290.3 L269.3 288.9 L270.3 287.48 L271.3 284.8 L272.35 286.57 L273.4 287.9 L274.15 284.79 L274.9 280.7 L275.65 282.31 L276.4 282.7 L277.1 280.32 L277.8 277.74 L278.5 276.6 L279.25 274.43 L280 270.5 L281 267.61 L282 266.4 L283.1 256.2 L283.85 255.28 L284.6 254.1 L285.35 254.18 L286.1 252.1 L286.9 253.82 L287.7 256.2 L288.45 255.18 L289.2 255.2 L289.95 257.49 L290.7 260.3 L291.4 262.34 L292.1 266.25 L292.8 268.4 L293.8 272.56 L294.8 277.6 L295.67 279.39 L296.53 283.28 L297.4 285.8 L298.23 287.42 L299.07 289.43 L299.9 291.9 L300.72 292.31 L301.54 293.77 L302.36 294.29 L303.18 295.22 L304 296 L304.82 296.26 L305.64 296.57 L306.46 296.74 L307.28 297.05 L308.1 297.3 L308.1 297.3Z" fill="#a8a8a8" stroke="#5a5a5a" stroke-width="0.7" stroke-linejoin="round"/>
<path d="M260.1 297.3 L260.93 295.36 L261.77 293.98 L262.6 291.9 L263.65 283.64 L264.7 276.6 L265.45 268.39 L266.2 258.2 L266.95 256.29 L267.7 252.6 L268.8 259.2 L269.8 266.4 L270.55 272.07 L271.3 278.7 L272.35 284.83 L273.4 290.9 L274.23 292.52 L275.07 294.25 L275.9 296 L276.62 296.31 L277.34 296.56 L278.06 296.76 L278.78 297.04 L279.5 297.3" fill="none" stroke="#222" stroke-width="0.75" stroke-linejoin="round"/>
<line x1="258.4" y1="297.3" x2="326" y2="297.3" stroke="#7a7a7a" stroke-width="1"/>
<path d="M256.8 252.7L258.4 252.7M256.8 257.16L258.4 257.16M256.8 261.62L258.4 261.62M256.8 266.08L258.4 266.08M256.8 270.54L258.4 270.54M256.8 275L258.4 275M256.8 279.46L258.4 279.46M256.8 283.92L258.4 283.92M256.8 288.38L258.4 288.38M256.8 292.84L258.4 292.84M256.8 297.3L258.4 297.3" stroke="#9a9a9a" stroke-width="0.6"/>
<path d="M263.1 345.4 L263.1 345.3 L263.88 344.15 L264.65 343.03 L265.43 341.78 L266.2 341 L267.07 339.88 L267.93 338.95 L268.8 337.9 L269.55 334.74 L270.3 332.3 L271.05 333.78 L271.8 335.9 L272.6 333.35 L273.4 330.7 L274.15 329.08 L274.9 328.7 L275.65 330.39 L276.4 332.8 L277.1 330.18 L277.8 327.26 L278.5 324.6 L279.5 321.15 L280.5 316.4 L281.5 315.57 L282.5 313.4 L283.6 304.2 L284.35 306.1 L285.1 307.2 L285.85 304.07 L286.6 300.6 L287.4 302.45 L288.2 305.2 L288.95 306.78 L289.7 307.2 L290.45 311.31 L291.2 314.4 L292 316.54 L292.8 319.5 L293.55 321.41 L294.3 324.6 L295.3 328.09 L296.3 331.8 L297.17 333.49 L298.03 335.6 L298.9 337.9 L299.77 339.28 L300.63 340.87 L301.5 342.5 L302.33 343.08 L303.17 344.04 L304 344.8 L305 345.08 L306 345.3 L306 345.4Z" fill="#a8a8a8" stroke="#5a5a5a" stroke-width="0.7" stroke-linejoin="round"/>
<path d="M264.2 345.3 L265 344.85 L265.8 344.46 L266.6 343.9 L267.4 343.58 L268.2 343 L269.02 342.35 L269.84 341.8 L270.66 341.4 L271.48 340.65 L272.3 340.5 L273.12 340.13 L273.94 339.77 L274.76 339.62 L275.58 339.63 L276.4 338.9 L277.22 338.07 L278.04 337.76 L278.86 337.7 L279.68 337.47 L280.5 336.9 L281.22 336.03 L281.94 336.09 L282.66 335.18 L283.38 334.94 L284.1 334.8 L284.93 333.55 L285.77 333.04 L286.6 332.8 L287.47 331.42 L288.33 330.57 L289.2 328.7 L290.2 327.64 L291.2 325.6 L292 322.84 L292.8 318.5 L293.55 316.46 L294.3 316.4 L295.05 312.01 L295.8 309.3 L296.6 307.73 L297.4 306.2 L298.4 300.6 L299.4 305.2 L300.15 309.26 L300.9 314.4 L301.7 320.99 L302.5 325.6 L303.25 331.28 L304 336.9 L305 340.82 L306 344 L306.77 344.38 L307.55 344.7 L308.33 344.94 L309.1 345.3" fill="none" stroke="#111" stroke-width="1.3" stroke-linejoin="round"/>
<line x1="258.4" y1="345.4" x2="326" y2="345.4" stroke="#7a7a7a" stroke-width="1"/>
<path d="M256.8 300.9L258.4 300.9M256.8 305.35L258.4 305.35M256.8 309.8L258.4 309.8M256.8 314.25L258.4 314.25M256.8 318.7L258.4 318.7M256.8 323.15L258.4 323.15M256.8 327.6L258.4 327.6M256.8 332.05L258.4 332.05M256.8 336.5L258.4 336.5M256.8 340.95L258.4 340.95M256.8 345.4L258.4 345.4" stroke="#9a9a9a" stroke-width="0.6"/>
<path d="M263.6 393.4 L263.6 393.3 L264.32 392.41 L265.04 391.56 L265.76 390.67 L266.48 389.88 L267.2 389 L268.07 387.64 L268.93 386.49 L269.8 384.9 L270.55 383.38 L271.3 380.8 L272.35 379.83 L273.4 378.7 L274.15 378.06 L274.9 376.7 L275.65 378.31 L276.4 378.7 L277.1 377.27 L277.8 376.32 L278.5 373.6 L279.5 371.4 L280.5 368.5 L281.25 366.85 L282 363.4 L282.8 360.01 L283.6 358.3 L284.1 351.2 L284.85 350.33 L285.6 350.1 L286.6 360.4 L287.7 352.2 L288.45 352.39 L289.2 353.2 L290.2 350.68 L291.2 348.6 L292.3 357.3 L293.3 366.5 L294.05 368.1 L294.8 371.6 L295.55 375.54 L296.3 378.7 L297.1 382.31 L297.9 384.9 L298.73 386.89 L299.57 387.52 L300.4 389 L301.12 389.83 L301.84 390.38 L302.56 390.83 L303.28 391.32 L304 392 L304.82 392.19 L305.64 392.57 L306.46 392.74 L307.28 393.06 L308.1 393.3 L308.1 393.4Z" fill="#a8a8a8" stroke="#5a5a5a" stroke-width="0.7" stroke-linejoin="round"/>
<path d="M263.6 393.3 L264.32 392.48 L265.04 391.65 L265.76 390.56 L266.48 389.75 L267.2 389 L268.07 387.67 L268.93 386.46 L269.8 384.9 L270.55 383.55 L271.3 380.8 L272.35 380.68 L273.4 378.7 L274.15 377.34 L274.9 376.7 L275.65 378.3 L276.4 378.7 L277.1 376.84 L277.8 374.71 L278.5 373.6 L279.5 370.11 L280.5 368.5 L281.25 365.46 L282 363.4 L282.8 361.32 L283.6 358.3 L284.1 351.2 L284.85 349.78 L285.6 350.1 L286.6 360.4 L287.7 352.2 L288.45 352.53 L289.2 353.2 L290.2 350.45 L291.2 348.6 L292.3 357.3 L293.3 366.5 L294.05 368.35 L294.8 371.6 L295.55 374.19 L296.3 378.7 L297.1 381.16 L297.9 384.9 L298.73 386.31 L299.57 387.73 L300.4 389 L301.12 389.4 L301.84 390.33 L302.56 391.02 L303.28 391.56 L304 392 L304.82 392.18 L305.64 392.49 L306.46 392.74 L307.28 393.06 L308.1 393.3" fill="none" stroke="#111" stroke-width="1.3" stroke-linejoin="round"/>
<line x1="258.4" y1="393.4" x2="326" y2="393.4" stroke="#7a7a7a" stroke-width="1"/>
<path d="M256.8 349L258.4 349M256.8 353.44L258.4 353.44M256.8 357.88L258.4 357.88M256.8 362.32L258.4 362.32M256.8 366.76L258.4 366.76M256.8 371.2L258.4 371.2M256.8 375.64L258.4 375.64M256.8 380.08L258.4 380.08M256.8 384.52L258.4 384.52M256.8 388.96L258.4 388.96M256.8 393.4L258.4 393.4" stroke="#9a9a9a" stroke-width="0.6"/>
<path d="M263.1 441.4 L263.1 441.3 L263.88 440.26 L264.65 439.2 L265.43 438.09 L266.2 437 L267.07 435.95 L267.93 434.25 L268.8 432.9 L269.8 430.54 L270.8 429.3 L271.8 429.53 L272.8 428.3 L273.85 426.99 L274.9 426.7 L275.65 426.63 L276.4 425.7 L277.1 425.18 L277.8 422.77 L278.5 422.7 L279.25 419.99 L280 416.5 L280.75 415.51 L281.5 412.4 L282.3 411.35 L283.1 409.4 L284.1 400.2 L284.85 401.65 L285.6 404.3 L286.6 398.1 L287.7 402.2 L288.9 397.1 L290.2 410.4 L290.95 407.38 L291.7 405.3 L292.5 408.81 L293.3 412.4 L294.3 414.88 L295.3 418.6 L296.1 422.85 L296.9 425.7 L297.65 427.79 L298.4 430.8 L299.4 432.89 L300.4 434.9 L301.27 435.94 L302.13 437.71 L303 439 L303.82 439.4 L304.64 440.05 L305.46 440.38 L306.28 440.86 L307.1 441.3 L307.1 441.4Z" fill="#a8a8a8" stroke="#5a5a5a" stroke-width="0.7" stroke-linejoin="round"/>
<path d="M263.1 441.3 L263.88 440.24 L264.65 439.09 L265.43 438.34 L266.2 437 L267.07 435.23 L267.93 434.31 L268.8 432.9 L269.8 430.83 L270.8 429.3 L271.8 428.3 L272.8 428.3 L273.85 428.42 L274.9 426.7 L275.65 425.86 L276.4 425.7 L277.1 425.29 L277.8 424.46 L278.5 422.7 L279.25 418.78 L280 416.5 L280.75 413.55 L281.5 412.4 L282.3 410.42 L283.1 409.4 L284.1 400.2 L284.85 402.02 L285.6 404.3 L286.6 398.1 L287.7 402.2 L288.9 397.1 L290.2 410.4 L290.95 407.81 L291.7 405.3 L292.5 409.65 L293.3 412.4 L294.3 416.44 L295.3 418.6 L296.1 421.66 L296.9 425.7 L297.65 428.16 L298.4 430.8 L299.4 432.82 L300.4 434.9 L301.27 436.66 L302.13 437.34 L303 439 L303.82 439.36 L304.64 439.81 L305.46 440.41 L306.28 440.88 L307.1 441.3" fill="none" stroke="#111" stroke-width="1.3" stroke-linejoin="round"/>
<line x1="258.4" y1="441.4" x2="326" y2="441.4" stroke="#7a7a7a" stroke-width="1"/>
<path d="M260.4 441.4L260.4 442.8M266.76 441.4L266.76 442.8M273.12 441.4L273.12 442.8M279.48 441.4L279.48 442.8M285.84 441.4L285.84 442.8M292.2 441.4L292.2 442.8M298.56 441.4L298.56 442.8M304.92 441.4L304.92 442.8M311.28 441.4L311.28 442.8M317.64 441.4L317.64 442.8M324 441.4L324 442.8" stroke="#8a8a8a" stroke-width="0.7"/>
<path d="M256.8 397L258.4 397M256.8 401.44L258.4 401.44M256.8 405.88L258.4 405.88M256.8 410.32L258.4 410.32M256.8 414.76L258.4 414.76M256.8 419.2L258.4 419.2M256.8 423.64L258.4 423.64M256.8 428.08L258.4 428.08M256.8 432.52L258.4 432.52M256.8 436.96L258.4 436.96M256.8 441.4L258.4 441.4" stroke="#9a9a9a" stroke-width="0.6"/>
<text x="105.7" y="260.8" font-size="9.5" text-anchor="end" font-weight="bold" fill="#1c1c1c" stroke="#1c1c1c" stroke-width="0.22">358</text>
<text x="177.6" y="260.8" font-size="9.5" text-anchor="end" font-weight="bold" fill="#1c1c1c" stroke="#1c1c1c" stroke-width="0.22">876</text>
<text x="251.7" y="260.8" font-size="9.5" text-anchor="end" font-weight="bold" fill="#1c1c1c" stroke="#1c1c1c" stroke-width="0.22">510</text>
<text x="323.4" y="260.8" font-size="9.5" text-anchor="end" font-weight="bold" fill="#1c1c1c" stroke="#1c1c1c" stroke-width="0.22">1022</text>
<text x="105.7" y="307.8" font-size="9.5" text-anchor="end" font-weight="bold" fill="#1c1c1c" stroke="#1c1c1c" stroke-width="0.22">894</text>
<text x="177.6" y="307.8" font-size="9.5" text-anchor="end" font-weight="bold" fill="#1c1c1c" stroke="#1c1c1c" stroke-width="0.22">2219</text>
<text x="251.7" y="307.8" font-size="9.5" text-anchor="end" font-weight="bold" fill="#1c1c1c" stroke="#1c1c1c" stroke-width="0.22">1083</text>
<text x="323.4" y="307.8" font-size="9.5" text-anchor="end" font-weight="bold" fill="#1c1c1c" stroke="#1c1c1c" stroke-width="0.22">2758</text>
<text x="105.7" y="356.9" font-size="9.5" text-anchor="end" font-weight="bold" fill="#1c1c1c" stroke="#1c1c1c" stroke-width="0.22">402</text>
<text x="177.6" y="356.9" font-size="9.5" text-anchor="end" font-weight="bold" fill="#1c1c1c" stroke="#1c1c1c" stroke-width="0.22">1118</text>
<text x="251.7" y="356.9" font-size="9.5" text-anchor="end" font-weight="bold" fill="#1c1c1c" stroke="#1c1c1c" stroke-width="0.22">507</text>
<text x="323.4" y="356.9" font-size="9.5" text-anchor="end" font-weight="bold" fill="#1c1c1c" stroke="#1c1c1c" stroke-width="0.22">1090</text>
<text x="105.7" y="405" font-size="9.5" text-anchor="end" font-weight="bold" fill="#1c1c1c" stroke="#1c1c1c" stroke-width="0.22">502</text>
<text x="177.6" y="405" font-size="9.5" text-anchor="end" font-weight="bold" fill="#1c1c1c" stroke="#1c1c1c" stroke-width="0.22">1118</text>
<text x="251.7" y="405" font-size="9.5" text-anchor="end" font-weight="bold" fill="#1c1c1c" stroke="#1c1c1c" stroke-width="0.22">667</text>
<text x="323.4" y="405" font-size="9.5" text-anchor="end" font-weight="bold" fill="#1c1c1c" stroke="#1c1c1c" stroke-width="0.22">1189</text>
<text x="332.2" y="276.6" font-size="10.5" text-anchor="start" font-weight="bold" fill="#1c1c1c" stroke="#1c1c1c" stroke-width="0.22">PBS</text>
<text x="332.2" y="325.1" font-size="10.5" text-anchor="start" font-weight="bold" fill="#1c1c1c" stroke="#1c1c1c" stroke-width="0.22">CT</text>
<text x="332.2" y="367.4" font-size="10.5" text-anchor="start" font-weight="bold" fill="#1c1c1c" stroke="#1c1c1c" stroke-width="0.22">CT</text>
<text x="332.2" y="379.9" font-size="10.5" text-anchor="start" font-weight="bold" fill="#1c1c1c" stroke="#1c1c1c" stroke-width="0.22">GL iv</text>
<text x="332.2" y="416.1" font-size="10.5" text-anchor="start" font-weight="bold" fill="#1c1c1c" stroke="#1c1c1c" stroke-width="0.22">CT</text>
<text x="332.2" y="428.2" font-size="10.5" text-anchor="start" font-weight="bold" fill="#1c1c1c" stroke="#1c1c1c" stroke-width="0.22">GL po</text>
<line x1="35.7" y1="446.6" x2="35.7" y2="250.5" stroke="#222" stroke-width="1.2"/>
<path d="M33.5 251.7 L35.7 247.5 L37.9 251.7 Z" fill="#222"/>
<line x1="35.2" y1="446.4" x2="105.6" y2="446.4" stroke="#222" stroke-width="1.2"/>
<path d="M104.4 444.2 L108.6 446.4 L104.4 448.6 Z" fill="#222"/>
<line x1="112.9" y1="446.4" x2="177.9" y2="446.4" stroke="#222" stroke-width="1.2"/>
<path d="M176.7 444.2 L180.9 446.4 L176.7 448.6 Z" fill="#222"/>
<line x1="186.2" y1="446.6" x2="251.6" y2="446.6" stroke="#222" stroke-width="1.2"/>
<path d="M250.4 444.4 L254.6 446.6 L250.4 448.8 Z" fill="#222"/>
<line x1="259.2" y1="447" x2="324.4" y2="447" stroke="#222" stroke-width="1.2"/>
<path d="M323.2 444.8 L327.4 447 L323.2 449.2 Z" fill="#222"/>
<text x="72" y="459.5" font-size="10.4" text-anchor="middle" font-weight="bold" fill="#1c1c1c" stroke="#1c1c1c" stroke-width="0.22">CD80</text>
<text x="147.2" y="460.2" font-size="10.4" text-anchor="middle" font-weight="bold" fill="#1c1c1c" stroke="#1c1c1c" stroke-width="0.22">CD86</text>
<text x="220.3" y="460" font-size="10.4" text-anchor="middle" font-weight="bold" fill="#1c1c1c" stroke="#1c1c1c" stroke-width="0.22">CD80</text>
<text x="293.6" y="459.8" font-size="10.4" text-anchor="middle" font-weight="bold" fill="#1c1c1c" stroke="#1c1c1c" stroke-width="0.22">CD86</text>
<text x="0" y="0" transform="translate(31.2 348.1) rotate(-90)" font-size="11" text-anchor="middle" font-weight="bold" fill="#1c1c1c" stroke="#1c1c1c" stroke-width="0.22">% of max</text>
<text x="372.8" y="239" font-size="15.5" text-anchor="start" font-weight="bold" fill="#1c1c1c" stroke="#1c1c1c" stroke-width="0.22">e</text>
<text x="411.6" y="247.7" font-size="10.8" text-anchor="middle" font-weight="bold" fill="#1c1c1c" stroke="#1c1c1c" stroke-width="0.22">CD8<tspan font-size="7" dy="-3.5">+</tspan><tspan dy="3.5"> OT-I</tspan></text>
<text x="466.5" y="247.7" font-size="10.8" text-anchor="middle" font-weight="bold" fill="#1c1c1c" stroke="#1c1c1c" stroke-width="0.22">CD4<tspan font-size="7" dy="-3.5">+</tspan><tspan dy="3.5"> OT-II</tspan></text>
<rect x="390.8" y="251.8" width="48" height="47.6" fill="#fff" stroke="#ababab" stroke-width="0.9"/>
<rect x="390.8" y="299.6" width="48" height="47.6" fill="#fff" stroke="#ababab" stroke-width="0.9"/>
<rect x="390.8" y="347.5" width="48" height="47.1" fill="#fff" stroke="#ababab" stroke-width="0.9"/>
<rect x="390.8" y="395.1" width="48" height="47.2" fill="#fff" stroke="#ababab" stroke-width="0.9"/>
<rect x="441.5" y="251.8" width="47.8" height="47.6" fill="#fff" stroke="#ababab" stroke-width="0.9"/>
<rect x="441.5" y="299.6" width="47.8" height="47.6" fill="#fff" stroke="#ababab" stroke-width="0.9"/>
<rect x="441.5" y="347.5" width="47.8" height="47.1" fill="#fff" stroke="#ababab" stroke-width="0.9"/>
<rect x="441.5" y="395.1" width="47.8" height="47.2" fill="#fff" stroke="#ababab" stroke-width="0.9"/>
<path d="M428.3 299.4 L429.5 252.3 L438.4 252.3 L438.4 299.4 Z" fill="#a0a0a0"/>
<path d="M434.2 252.4 L435.6 263.8 L437 284.8" fill="none" stroke="#333" stroke-width="0.9"/>
<path d="M391.2 299 L391.93 299 L392.67 298.99 L393.4 298.95 L394.13 298.92 L394.87 298.93 L395.6 298.89 L396.33 298.9 L397.07 298.86 L397.8 298.86 L398.53 298.86 L399.27 298.78 L400 298.8 L400.71 298.79 L401.43 298.81 L402.14 298.81 L402.86 298.86 L403.57 298.8 L404.29 298.84 L405 298.84 L405.71 298.83 L406.43 298.84 L407.14 298.9 L407.86 298.87 L408.57 298.91 L409.29 298.88 L410 298.9 L410.71 298.87 L411.43 298.85 L412.14 298.83 L412.86 298.81 L413.57 298.85 L414.29 298.84 L415 298.84 L415.71 298.8 L416.43 298.8 L417.14 298.77 L417.86 298.74 L418.57 298.77 L419.29 298.72 L420 298.7 L420.75 298.65 L421.5 298.67 L422.25 298.68 L423 298.65 L423.75 298.6 L424.5 298.61 L425.25 298.54 L426 298.56 L426.75 298.53 L427.5 298.5 L428.6 296" fill="none" stroke="#1a1a1a" stroke-width="0.95" stroke-linejoin="round"/>
<path d="M428.6 296 L429.3 285 L429.8 252" fill="none" stroke="#1a1a1a" stroke-width="0.95" stroke-linejoin="round"/>
<line x1="390.8" y1="299.4" x2="438.8" y2="299.4" stroke="#7a7a7a" stroke-width="1"/>
<path d="M389.2 254.8L390.8 254.8M389.2 259.26L390.8 259.26M389.2 263.72L390.8 263.72M389.2 268.18L390.8 268.18M389.2 272.64L390.8 272.64M389.2 277.1L390.8 277.1M389.2 281.56L390.8 281.56M389.2 286.02L390.8 286.02M389.2 290.48L390.8 290.48M389.2 294.94L390.8 294.94M389.2 299.4L390.8 299.4" stroke="#9a9a9a" stroke-width="0.6"/>
<path d="M428.3 347.2 L429.5 300.1 L438.4 300.1 L438.4 347.2 Z" fill="#a0a0a0"/>
<path d="M434.2 300.2 L435.6 311.6 L437 332.6" fill="none" stroke="#333" stroke-width="0.9"/>
<path d="M395.9 346.9 L396.67 345.87 L397.43 344.78 L398.2 343.7 L399.2 340.78 L400.2 337.4 L401 333.3 L401.8 329.5 L402.6 325.25 L403.4 320.1 L404.6 313.8 L405.3 315.3 L406.5 309.8 L407.3 314.6 L408.5 318.5 L409.7 321.7 L410.9 325.6 L411.6 329.5 L412.8 331.1 L413.6 329.5 L414.8 333.5 L415.6 333.7 L416.4 335 L417.6 338.2 L418.7 339 L419.5 340.16 L420.3 340.6 L421.1 341.14 L421.9 341 L422.7 342.04 L423.5 342.9 L424.3 342.73 L425.1 342.5 L425.85 342.49 L426.6 342.9 L427.8 340.6 L428.6 335.8" fill="none" stroke="#1a1a1a" stroke-width="0.95" stroke-linejoin="round"/>
<path d="M428.6 335.8 L429.4 321.6 L429.8 300" fill="none" stroke="#1a1a1a" stroke-width="0.95" stroke-linejoin="round"/>
<line x1="390.8" y1="347.2" x2="438.8" y2="347.2" stroke="#7a7a7a" stroke-width="1"/>
<path d="M389.2 302.6L390.8 302.6M389.2 307.06L390.8 307.06M389.2 311.52L390.8 311.52M389.2 315.98L390.8 315.98M389.2 320.44L390.8 320.44M389.2 324.9L390.8 324.9M389.2 329.36L390.8 329.36M389.2 333.82L390.8 333.82M389.2 338.28L390.8 338.28M389.2 342.74L390.8 342.74M389.2 347.2L390.8 347.2" stroke="#9a9a9a" stroke-width="0.6"/>
<path d="M428.3 394.6 L429.5 348 L438.4 348 L438.4 394.6 Z" fill="#a0a0a0"/>
<path d="M434.2 348.1 L435.6 359.5 L437 380.5" fill="none" stroke="#333" stroke-width="0.9"/>
<path d="M394.3 394.2 L395.1 393.95 L395.9 393.54 L396.7 393.3 L397.47 393.49 L398.23 393.55 L399 393.7 L399.8 392.96 L400.6 392.35 L401.4 391.7 L402.2 390.69 L403 389.4 L403.8 388.15 L404.6 386.2 L405.35 385.5 L406.1 385.4 L406.9 384.14 L407.7 383.1 L408.9 383.8 L410.1 384.6 L411.3 387.8 L412.4 389 L413.2 388.48 L414 387.8 L414.8 387.68 L415.6 386.6 L416.8 389.8 L417.6 390.25 L418.4 390.1 L419.5 391.7 L420.3 390.92 L421.1 390.5 L421.9 391.43 L422.7 392.5 L423.5 391.8 L424.3 391.3 L425.05 391.45 L425.8 391.7 L426.6 391.16 L427.4 390.9 L428.6 387" fill="none" stroke="#1a1a1a" stroke-width="0.95" stroke-linejoin="round"/>
<path d="M428.6 387 L429.4 369.7 L429.8 348" fill="none" stroke="#1a1a1a" stroke-width="0.95" stroke-linejoin="round"/>
<line x1="390.8" y1="394.6" x2="438.8" y2="394.6" stroke="#7a7a7a" stroke-width="1"/>
<path d="M389.2 350.5L390.8 350.5M389.2 354.91L390.8 354.91M389.2 359.32L390.8 359.32M389.2 363.73L390.8 363.73M389.2 368.14L390.8 368.14M389.2 372.55L390.8 372.55M389.2 376.96L390.8 376.96M389.2 381.37L390.8 381.37M389.2 385.78L390.8 385.78M389.2 390.19L390.8 390.19M389.2 394.6L390.8 394.6" stroke="#9a9a9a" stroke-width="0.6"/>
<path d="M428.3 442.3 L429.5 395.6 L438.4 395.6 L438.4 442.3 Z" fill="#a0a0a0"/>
<path d="M434.2 395.7 L435.6 407.1 L437 428.1" fill="none" stroke="#333" stroke-width="0.9"/>
<path d="M391.2 442.1 L391.98 442.08 L392.77 442.02 L393.55 442.01 L394.33 441.98 L395.12 441.95 L395.9 441.9 L396.9 441.2 L397.9 440.5 L398.65 438.58 L399.4 436.6 L400.2 434.08 L401 431.8 L401.8 429.1 L402.6 427.9 L403.8 425.5 L404.9 426.3 L405.7 427.32 L406.5 427.9 L407.3 429.76 L408.1 430.3 L409.3 432.6 L410.5 431.8 L411.7 433 L412.45 433.41 L413.2 433.8 L414 434.17 L414.8 435 L416 434.2 L416.8 438.1 L418 436.6 L418.75 437.17 L419.5 437.4 L420.7 436.6 L421.9 438.1 L423.1 439.3 L424.3 437 L425.05 437.26 L425.8 437.8 L426.6 437.39 L427.4 436.6 L428.6 433.4" fill="none" stroke="#1a1a1a" stroke-width="0.95" stroke-linejoin="round"/>
<path d="M428.6 433.4 L429.4 417.7 L429.8 395.6" fill="none" stroke="#1a1a1a" stroke-width="0.95" stroke-linejoin="round"/>
<line x1="390.8" y1="442.3" x2="438.8" y2="442.3" stroke="#7a7a7a" stroke-width="1"/>
<path d="M392.8 442.3L392.8 443.7M397.2 442.3L397.2 443.7M401.6 442.3L401.6 443.7M406 442.3L406 443.7M410.4 442.3L410.4 443.7M414.8 442.3L414.8 443.7M419.2 442.3L419.2 443.7M423.6 442.3L423.6 443.7M428 442.3L428 443.7M432.4 442.3L432.4 443.7M436.8 442.3L436.8 443.7" stroke="#8a8a8a" stroke-width="0.7"/>
<path d="M389.2 398.1L390.8 398.1M389.2 402.52L390.8 402.52M389.2 406.94L390.8 406.94M389.2 411.36L390.8 411.36M389.2 415.78L390.8 415.78M389.2 420.2L390.8 420.2M389.2 424.62L390.8 424.62M389.2 429.04L390.8 429.04M389.2 433.46L390.8 433.46M389.2 437.88L390.8 437.88M389.2 442.3L390.8 442.3" stroke="#9a9a9a" stroke-width="0.6"/>
<path d="M477.3 299.4 L478.5 252.3 L488.9 252.3 L488.9 299.4 Z" fill="#a0a0a0"/>
<path d="M484.7 252.4 L486.1 263.8 L487.5 284.8" fill="none" stroke="#333" stroke-width="0.9"/>
<path d="M441.9 299 L442.63 299 L443.36 299 L444.08 298.97 L444.81 299 L445.54 298.96 L446.27 298.96 L446.99 298.97 L447.72 298.95 L448.45 298.98 L449.18 298.94 L449.91 298.93 L450.63 298.9 L451.36 298.94 L452.09 298.9 L452.82 298.91 L453.54 298.92 L454.27 298.9 L455 298.9 L455.75 298.92 L456.5 298.88 L457.25 298.87 L458 298.84 L458.75 298.82 L459.5 298.82 L460.25 298.85 L461 298.8 L461.75 298.82 L462.5 298.79 L463.25 298.83 L464 298.8 L464.83 298.41 L465.67 298.18 L466.5 297.8 L467.2 297.84 L467.9 297.78 L468.6 297.61 L469.3 297.64 L470 297.5 L470.8 297.35 L471.6 297.5 L472.4 297.45 L473.2 297.32 L474 297.2 L474.7 297.26 L475.4 297.08 L476.1 297.11 L476.8 296.84 L477.5 296.8" fill="none" stroke="#1a1a1a" stroke-width="0.95" stroke-linejoin="round"/>
<path d="M477.5 296.8 L478.2 290 L478.8 252" fill="none" stroke="#1a1a1a" stroke-width="0.95" stroke-linejoin="round"/>
<line x1="441.5" y1="299.4" x2="489.3" y2="299.4" stroke="#7a7a7a" stroke-width="1"/>
<path d="M439.9 254.8L441.5 254.8M439.9 259.26L441.5 259.26M439.9 263.72L441.5 263.72M439.9 268.18L441.5 268.18M439.9 272.64L441.5 272.64M439.9 277.1L441.5 277.1M439.9 281.56L441.5 281.56M439.9 286.02L441.5 286.02M439.9 290.48L441.5 290.48M439.9 294.94L441.5 294.94M439.9 299.4L441.5 299.4" stroke="#9a9a9a" stroke-width="0.6"/>
<path d="M477.1 347.2 L478.3 300.1 L488.9 300.1 L488.9 347.2 Z" fill="#a0a0a0"/>
<path d="M484.7 300.2 L486.1 311.6 L487.5 332.6" fill="none" stroke="#333" stroke-width="0.9"/>
<path d="M443.1 346.5 L444.3 342.1 L445.1 337.31 L445.9 333.5 L447.1 320.1 L448.2 313 L449.4 308.2 L450.2 312.2 L451.4 321.7 L452.6 328 L453.8 332.7 L455 331.1 L456.1 333.5 L456.9 332.49 L457.7 332.7 L458.9 331.9 L460.1 335.8 L460.9 336.24 L461.7 337.4 L462.45 337.33 L463.2 336.6 L464 338.48 L464.8 341 L465.6 340.61 L466.4 340.6 L467.4 340.33 L468.4 339.4 L469.5 341 L470.5 341.48 L471.5 342.5 L472.3 341.79 L473.1 341 L473.9 341.07 L474.7 340.6 L475.8 337.4 L477 335.8" fill="none" stroke="#1a1a1a" stroke-width="0.95" stroke-linejoin="round"/>
<path d="M477 335.8 L477.8 329.5 L478.6 300" fill="none" stroke="#1a1a1a" stroke-width="0.95" stroke-linejoin="round"/>
<line x1="441.5" y1="347.2" x2="489.3" y2="347.2" stroke="#7a7a7a" stroke-width="1"/>
<path d="M439.9 302.6L441.5 302.6M439.9 307.06L441.5 307.06M439.9 311.52L441.5 311.52M439.9 315.98L441.5 315.98M439.9 320.44L441.5 320.44M439.9 324.9L441.5 324.9M439.9 329.36L441.5 329.36M439.9 333.82L441.5 333.82M439.9 338.28L441.5 338.28M439.9 342.74L441.5 342.74M439.9 347.2L441.5 347.2" stroke="#9a9a9a" stroke-width="0.6"/>
<path d="M477.1 394.6 L478.3 348 L488.9 348 L488.9 394.6 Z" fill="#a0a0a0"/>
<path d="M484.7 348.1 L486.1 359.5 L487.5 380.5" fill="none" stroke="#333" stroke-width="0.9"/>
<path d="M442.7 394.2 L443.5 394 L444.3 393.9 L445.1 393.7 L445.9 392.64 L446.7 391.7 L447.9 389 L449 388.2 L449.8 389.22 L450.6 389.8 L451.4 390.7 L452.2 391.3 L453.2 391.51 L454.2 391.3 L455.15 392.01 L456.1 392.5 L456.9 392.98 L457.7 393.38 L458.5 393.7 L459.5 393.16 L460.5 392.5 L461.45 392.04 L462.4 391.7 L463.4 392.65 L464.4 393.7 L465.1 393.5 L465.8 393.39 L466.5 393.19 L467.2 393.1 L467.97 393.2 L468.73 393.16 L469.5 393.3 L470.3 393.42 L471.1 393.61 L471.9 393.7 L472.7 393.34 L473.5 392.79 L474.3 392.5 L475.2 392.38 L476.1 392.45 L477 392.5" fill="none" stroke="#1a1a1a" stroke-width="0.95" stroke-linejoin="round"/>
<path d="M477 392.5 L477.8 377.5 L478.6 348" fill="none" stroke="#1a1a1a" stroke-width="0.95" stroke-linejoin="round"/>
<line x1="441.5" y1="394.6" x2="489.3" y2="394.6" stroke="#7a7a7a" stroke-width="1"/>
<path d="M439.9 350.5L441.5 350.5M439.9 354.91L441.5 354.91M439.9 359.32L441.5 359.32M439.9 363.73L441.5 363.73M439.9 368.14L441.5 368.14M439.9 372.55L441.5 372.55M439.9 376.96L441.5 376.96M439.9 381.37L441.5 381.37M439.9 385.78L441.5 385.78M439.9 390.19L441.5 390.19M439.9 394.6L441.5 394.6" stroke="#9a9a9a" stroke-width="0.6"/>
<path d="M476.9 442.3 L478.1 395.6 L488.9 395.6 L488.9 442.3 Z" fill="#a0a0a0"/>
<path d="M484.7 395.7 L486.1 407.1 L487.5 428.1" fill="none" stroke="#333" stroke-width="0.9"/>
<path d="M441.9 442.1 L442.9 441.73 L443.9 441.3 L444.7 439.76 L445.5 438.1 L446.7 434.2 L447.45 432.72 L448.2 429.9 L449.4 432.6 L450.2 433.94 L451 435.4 L452 436.28 L453 437.4 L453.8 437.97 L454.6 438.5 L455.37 438.59 L456.13 438.27 L456.9 438.5 L457.7 438.1 L458.5 438.1 L459.7 436.6 L460.9 437.8 L461.65 438.21 L462.4 438.9 L463.4 439.74 L464.4 440.5 L465.2 439.77 L466 439.3 L466.8 439.94 L467.6 440.5 L468.55 440.21 L469.5 440.1 L470.3 439.78 L471.1 439.3 L471.9 439.75 L472.7 440.5 L473.5 439.81 L474.3 439.3 L475.07 439.12 L475.83 439.03 L476.6 438.9" fill="none" stroke="#1a1a1a" stroke-width="0.95" stroke-linejoin="round"/>
<path d="M476.6 438.9 L477.8 425.5 L478.4 395.6" fill="none" stroke="#1a1a1a" stroke-width="0.95" stroke-linejoin="round"/>
<line x1="441.5" y1="442.3" x2="489.3" y2="442.3" stroke="#7a7a7a" stroke-width="1"/>
<path d="M443.5 442.3L443.5 443.7M447.88 442.3L447.88 443.7M452.26 442.3L452.26 443.7M456.64 442.3L456.64 443.7M461.02 442.3L461.02 443.7M465.4 442.3L465.4 443.7M469.78 442.3L469.78 443.7M474.16 442.3L474.16 443.7M478.54 442.3L478.54 443.7M482.92 442.3L482.92 443.7M487.3 442.3L487.3 443.7" stroke="#8a8a8a" stroke-width="0.7"/>
<path d="M439.9 398.1L441.5 398.1M439.9 402.52L441.5 402.52M439.9 406.94L441.5 406.94M439.9 411.36L441.5 411.36M439.9 415.78L441.5 415.78M439.9 420.2L441.5 420.2M439.9 424.62L441.5 424.62M439.9 429.04L441.5 429.04M439.9 433.46L441.5 433.46M439.9 437.88L441.5 437.88M439.9 442.3L441.5 442.3" stroke="#9a9a9a" stroke-width="0.6"/>
<line x1="391.4" y1="277.4" x2="426.5" y2="277.4" stroke="#777" stroke-width="0.9"/>
<line x1="391.4" y1="276.2" x2="391.4" y2="278.6" stroke="#777" stroke-width="0.7"/>
<line x1="426.5" y1="276.2" x2="426.5" y2="278.6" stroke="#777" stroke-width="0.7"/>
<line x1="441.8" y1="277.4" x2="476.6" y2="277.4" stroke="#777" stroke-width="0.9"/>
<line x1="441.8" y1="276.2" x2="441.8" y2="278.6" stroke="#777" stroke-width="0.7"/>
<line x1="476.6" y1="276.2" x2="476.6" y2="278.6" stroke="#777" stroke-width="0.7"/>
<line x1="391.4" y1="324.6" x2="426.5" y2="324.6" stroke="#777" stroke-width="0.9"/>
<line x1="391.4" y1="323.4" x2="391.4" y2="325.8" stroke="#777" stroke-width="0.7"/>
<line x1="426.5" y1="323.4" x2="426.5" y2="325.8" stroke="#777" stroke-width="0.7"/>
<line x1="441.8" y1="324.6" x2="476.6" y2="324.6" stroke="#777" stroke-width="0.9"/>
<line x1="441.8" y1="323.4" x2="441.8" y2="325.8" stroke="#777" stroke-width="0.7"/>
<line x1="476.6" y1="323.4" x2="476.6" y2="325.8" stroke="#777" stroke-width="0.7"/>
<line x1="391.4" y1="372.6" x2="426.5" y2="372.6" stroke="#777" stroke-width="0.9"/>
<line x1="391.4" y1="371.4" x2="391.4" y2="373.8" stroke="#777" stroke-width="0.7"/>
<line x1="426.5" y1="371.4" x2="426.5" y2="373.8" stroke="#777" stroke-width="0.7"/>
<line x1="441.8" y1="372.6" x2="476.6" y2="372.6" stroke="#777" stroke-width="0.9"/>
<line x1="441.8" y1="371.4" x2="441.8" y2="373.8" stroke="#777" stroke-width="0.7"/>
<line x1="476.6" y1="371.4" x2="476.6" y2="373.8" stroke="#777" stroke-width="0.7"/>
<line x1="391.4" y1="420.3" x2="426.5" y2="420.3" stroke="#777" stroke-width="0.9"/>
<line x1="391.4" y1="419.1" x2="391.4" y2="421.5" stroke="#777" stroke-width="0.7"/>
<line x1="426.5" y1="419.1" x2="426.5" y2="421.5" stroke="#777" stroke-width="0.7"/>
<line x1="441.8" y1="420.3" x2="476.6" y2="420.3" stroke="#777" stroke-width="0.9"/>
<line x1="441.8" y1="419.1" x2="441.8" y2="421.5" stroke="#777" stroke-width="0.7"/>
<line x1="476.6" y1="419.1" x2="476.6" y2="421.5" stroke="#777" stroke-width="0.7"/>
<text x="0" y="0" transform="translate(424.9 273.6) scale(0.98 1.07)" font-size="9.6" text-anchor="end" font-weight="bold" fill="#1c1c1c" stroke="#1c1c1c" stroke-width="0.22">1.3</text>
<text x="0" y="0" transform="translate(472.1 273.6) scale(0.98 1.07)" font-size="9.6" text-anchor="end" font-weight="bold" fill="#1c1c1c" stroke="#1c1c1c" stroke-width="0.22">3.4</text>
<text x="0" y="0" transform="translate(428.4 321.6) scale(0.98 1.07)" font-size="9.6" text-anchor="end" font-weight="bold" fill="#1c1c1c" stroke="#1c1c1c" stroke-width="0.22">28.2</text>
<text x="0" y="0" transform="translate(473.3 321.3) scale(0.98 1.07)" font-size="9.6" text-anchor="end" font-weight="bold" fill="#1c1c1c" stroke="#1c1c1c" stroke-width="0.22">37.6</text>
<text x="0" y="0" transform="translate(425.9 369.6) scale(0.98 1.07)" font-size="9.6" text-anchor="end" font-weight="bold" fill="#1c1c1c" stroke="#1c1c1c" stroke-width="0.22">14.4</text>
<text x="0" y="0" transform="translate(473.3 368.9) scale(0.98 1.07)" font-size="9.6" text-anchor="end" font-weight="bold" fill="#1c1c1c" stroke="#1c1c1c" stroke-width="0.22">14.6</text>
<text x="0" y="0" transform="translate(426.2 417.6) scale(0.98 1.07)" font-size="9.6" text-anchor="end" font-weight="bold" fill="#1c1c1c" stroke="#1c1c1c" stroke-width="0.22">20.5</text>
<text x="0" y="0" transform="translate(473.3 416.5) scale(0.98 1.07)" font-size="9.6" text-anchor="end" font-weight="bold" fill="#1c1c1c" stroke="#1c1c1c" stroke-width="0.22">21.3</text>
<text x="493.7" y="279.9" font-size="10.7" text-anchor="start" font-weight="bold" fill="#1c1c1c" stroke="#1c1c1c" stroke-width="0.22">CT</text>
<text x="493.7" y="326.1" font-size="10.7" text-anchor="start" font-weight="bold" fill="#1c1c1c" stroke="#1c1c1c" stroke-width="0.22">OVA+CT</text>
<text x="493.7" y="368.4" font-size="10.7" text-anchor="start" font-weight="bold" fill="#1c1c1c" stroke="#1c1c1c" stroke-width="0.22">OVA+CT</text>
<text x="493.7" y="381" font-size="10.7" text-anchor="start" font-weight="bold" fill="#1c1c1c" stroke="#1c1c1c" stroke-width="0.22">GL iv</text>
<text x="493.7" y="415.7" font-size="10.7" text-anchor="start" font-weight="bold" fill="#1c1c1c" stroke="#1c1c1c" stroke-width="0.22">OVA+CT</text>
<text x="493.7" y="428.3" font-size="10.7" text-anchor="start" font-weight="bold" fill="#1c1c1c" stroke="#1c1c1c" stroke-width="0.22">GL po</text>
<line x1="387.5" y1="445.6" x2="387.5" y2="254" stroke="#222" stroke-width="1.2"/>
<path d="M385.3 255.2 L387.5 251 L389.7 255.2 Z" fill="#222"/>
<line x1="387.5" y1="445.6" x2="487.5" y2="445.6" stroke="#222" stroke-width="1.2"/>
<path d="M486.3 443.4 L490.5 445.6 L486.3 447.8 Z" fill="#222"/>
<text x="439.5" y="460" font-size="10.4" text-anchor="middle" font-weight="bold" fill="#1c1c1c" stroke="#1c1c1c" stroke-width="0.22">CFSE</text>
<text x="0" y="0" transform="translate(382.6 349.5) rotate(-90)" font-size="11" text-anchor="middle" font-weight="bold" fill="#1c1c1c" stroke="#1c1c1c" stroke-width="0.22">% of max</text></svg>
</body></html>
